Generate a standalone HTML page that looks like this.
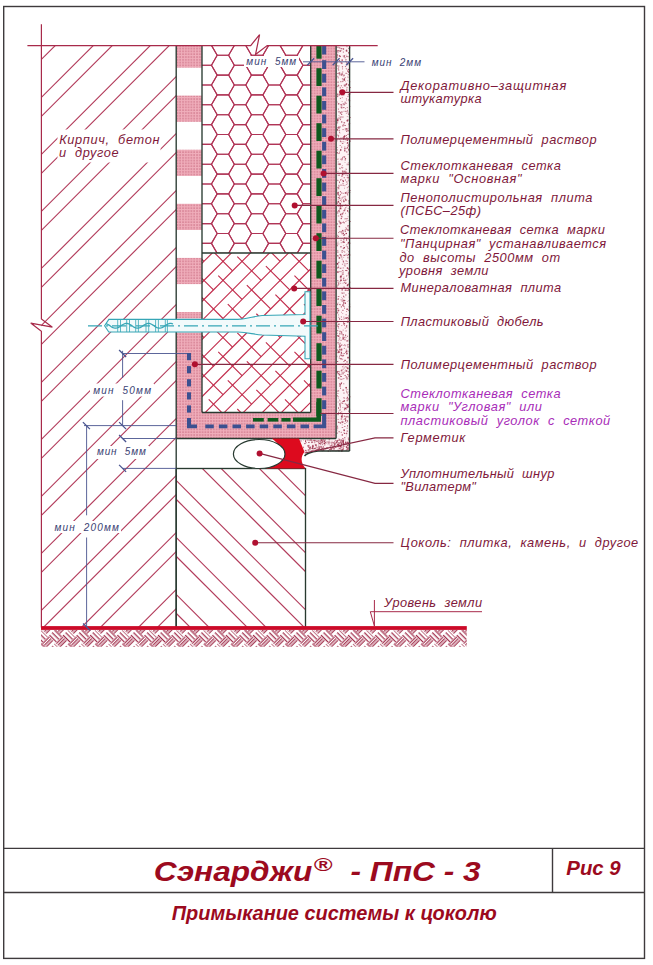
<!DOCTYPE html><html><head><meta charset="utf-8"><style>html,body{margin:0;padding:0;background:#fff;}svg{display:block;font-family:"Liberation Sans",sans-serif;} text{white-space:pre;}</style></head><body><svg width="653" height="965" viewBox="0 0 653 965"><defs><pattern id="pk" width="2.8" height="2.8" patternUnits="userSpaceOnUse"><rect width="2.8" height="2.8" fill="#f0aebb"/><rect x="0.3" y="0.3" width="1.4" height="1.4" fill="#cf7489"/></pattern><clipPath id="cBrick"><rect x="41.4" y="45.4" width="134.8" height="582.1"/></clipPath><clipPath id="cHex"><rect x="202" y="45.4" width="108.7" height="207.6"/></clipPath><clipPath id="cWool"><rect x="202" y="253" width="108.6" height="159.5"/></clipPath><clipPath id="cPlinth"><rect x="176.2" y="468.5" width="129.3" height="159"/></clipPath></defs><g clip-path="url(#cBrick)" stroke="#b23a5a" stroke-width="1.15" fill="none"><line x1="-13.2" y1="0" x2="-813.2" y2="800"/><line x1="43.8" y1="0" x2="-756.2" y2="800"/><line x1="100.8" y1="0" x2="-699.2" y2="800"/><line x1="157.8" y1="0" x2="-642.2" y2="800"/><line x1="214.8" y1="0" x2="-585.2" y2="800"/><line x1="271.8" y1="0" x2="-528.2" y2="800"/><line x1="328.8" y1="0" x2="-471.2" y2="800"/><line x1="385.8" y1="0" x2="-414.2" y2="800"/><line x1="442.8" y1="0" x2="-357.2" y2="800"/><line x1="499.8" y1="0" x2="-300.2" y2="800"/><line x1="556.8" y1="0" x2="-243.2" y2="800"/><line x1="613.8" y1="0" x2="-186.2" y2="800"/><line x1="670.8" y1="0" x2="-129.2" y2="800"/><line x1="727.8" y1="0" x2="-72.2" y2="800"/><line x1="784.8" y1="0" x2="-15.2" y2="800"/><line x1="841.8" y1="0" x2="41.8" y2="800"/><line x1="24.8" y1="0" x2="-775.2" y2="800"/><line x1="81.8" y1="0" x2="-718.2" y2="800"/><line x1="138.8" y1="0" x2="-661.2" y2="800"/><line x1="195.8" y1="0" x2="-604.2" y2="800"/><line x1="252.8" y1="0" x2="-547.2" y2="800"/><line x1="309.8" y1="0" x2="-490.2" y2="800"/><line x1="366.8" y1="0" x2="-433.2" y2="800"/><line x1="423.8" y1="0" x2="-376.2" y2="800"/><line x1="480.8" y1="0" x2="-319.2" y2="800"/><line x1="537.8" y1="0" x2="-262.2" y2="800"/><line x1="594.8" y1="0" x2="-205.2" y2="800"/><line x1="651.8" y1="0" x2="-148.2" y2="800"/><line x1="708.8" y1="0" x2="-91.2" y2="800"/><line x1="765.8" y1="0" x2="-34.2" y2="800"/><line x1="822.8" y1="0" x2="22.8" y2="800"/><line x1="879.8" y1="0" x2="79.8" y2="800"/></g><g clip-path="url(#cPlinth)" stroke="#b23a5a" stroke-width="1.15" fill="none"><line x1="380.7" y1="400" x2="680.7" y2="700"/><line x1="323.7" y1="400" x2="623.7" y2="700"/><line x1="266.7" y1="400" x2="566.7" y2="700"/><line x1="209.7" y1="400" x2="509.7" y2="700"/><line x1="152.7" y1="400" x2="452.7" y2="700"/><line x1="95.7" y1="400" x2="395.7" y2="700"/><line x1="38.7" y1="400" x2="338.7" y2="700"/><line x1="-18.3" y1="400" x2="281.7" y2="700"/><line x1="-75.3" y1="400" x2="224.7" y2="700"/><line x1="-132.3" y1="400" x2="167.7" y2="700"/><line x1="-189.3" y1="400" x2="110.7" y2="700"/><line x1="361.9" y1="400" x2="661.9" y2="700"/><line x1="304.9" y1="400" x2="604.9" y2="700"/><line x1="247.9" y1="400" x2="547.9" y2="700"/><line x1="190.9" y1="400" x2="490.9" y2="700"/><line x1="133.9" y1="400" x2="433.9" y2="700"/><line x1="76.9" y1="400" x2="376.9" y2="700"/><line x1="19.9" y1="400" x2="319.9" y2="700"/><line x1="-37.1" y1="400" x2="262.9" y2="700"/><line x1="-94.1" y1="400" x2="205.9" y2="700"/><line x1="-151.1" y1="400" x2="148.9" y2="700"/><line x1="-208.1" y1="400" x2="91.9" y2="700"/></g><g clip-path="url(#cHex)" stroke="#b03456" stroke-width="1.1" fill="none"><polygon points="177.18,5.8 182.9,-4.1 194.33,-4.1 200.04,5.8 194.33,15.7 182.9,15.7"/><polygon points="177.18,25.6 182.9,15.7 194.33,15.7 200.04,25.6 194.33,35.5 182.9,35.5"/><polygon points="177.18,45.4 182.9,35.5 194.33,35.5 200.04,45.4 194.33,55.3 182.9,55.3"/><polygon points="177.18,65.2 182.9,55.3 194.33,55.3 200.04,65.2 194.33,75.1 182.9,75.1"/><polygon points="177.18,85 182.9,75.1 194.33,75.1 200.04,85 194.33,94.9 182.9,94.9"/><polygon points="177.18,104.8 182.9,94.9 194.33,94.9 200.04,104.8 194.33,114.7 182.9,114.7"/><polygon points="177.18,124.6 182.9,114.7 194.33,114.7 200.04,124.6 194.33,134.5 182.9,134.5"/><polygon points="177.18,144.4 182.9,134.5 194.33,134.5 200.04,144.4 194.33,154.3 182.9,154.3"/><polygon points="177.18,164.2 182.9,154.3 194.33,154.3 200.04,164.2 194.33,174.1 182.9,174.1"/><polygon points="177.18,184 182.9,174.1 194.33,174.1 200.04,184 194.33,193.9 182.9,193.9"/><polygon points="177.18,203.8 182.9,193.9 194.33,193.9 200.04,203.8 194.33,213.7 182.9,213.7"/><polygon points="177.18,223.6 182.9,213.7 194.33,213.7 200.04,223.6 194.33,233.5 182.9,233.5"/><polygon points="177.18,243.4 182.9,233.5 194.33,233.5 200.04,243.4 194.33,253.3 182.9,253.3"/><polygon points="177.18,263.2 182.9,253.3 194.33,253.3 200.04,263.2 194.33,273.1 182.9,273.1"/><polygon points="194.32,15.7 200.04,5.8 211.47,5.8 217.19,15.7 211.47,25.6 200.04,25.6"/><polygon points="194.32,35.5 200.04,25.6 211.47,25.6 217.19,35.5 211.47,45.4 200.04,45.4"/><polygon points="194.32,55.3 200.04,45.4 211.47,45.4 217.19,55.3 211.47,65.2 200.04,65.2"/><polygon points="194.32,75.1 200.04,65.2 211.47,65.2 217.19,75.1 211.47,85 200.04,85"/><polygon points="194.32,94.9 200.04,85 211.47,85 217.19,94.9 211.47,104.8 200.04,104.8"/><polygon points="194.32,114.7 200.04,104.8 211.47,104.8 217.19,114.7 211.47,124.6 200.04,124.6"/><polygon points="194.32,134.5 200.04,124.6 211.47,124.6 217.19,134.5 211.47,144.4 200.04,144.4"/><polygon points="194.32,154.3 200.04,144.4 211.47,144.4 217.19,154.3 211.47,164.2 200.04,164.2"/><polygon points="194.32,174.1 200.04,164.2 211.47,164.2 217.19,174.1 211.47,184 200.04,184"/><polygon points="194.32,193.9 200.04,184 211.47,184 217.19,193.9 211.47,203.8 200.04,203.8"/><polygon points="194.32,213.7 200.04,203.8 211.47,203.8 217.19,213.7 211.47,223.6 200.04,223.6"/><polygon points="194.32,233.5 200.04,223.6 211.47,223.6 217.19,233.5 211.47,243.4 200.04,243.4"/><polygon points="194.32,253.3 200.04,243.4 211.47,243.4 217.19,253.3 211.47,263.2 200.04,263.2"/><polygon points="194.32,273.1 200.04,263.2 211.47,263.2 217.19,273.1 211.47,283 200.04,283"/><polygon points="211.47,5.8 217.19,-4.1 228.62,-4.1 234.33,5.8 228.62,15.7 217.19,15.7"/><polygon points="211.47,25.6 217.19,15.7 228.62,15.7 234.33,25.6 228.62,35.5 217.19,35.5"/><polygon points="211.47,45.4 217.19,35.5 228.62,35.5 234.33,45.4 228.62,55.3 217.19,55.3"/><polygon points="211.47,65.2 217.19,55.3 228.62,55.3 234.33,65.2 228.62,75.1 217.19,75.1"/><polygon points="211.47,85 217.19,75.1 228.62,75.1 234.33,85 228.62,94.9 217.19,94.9"/><polygon points="211.47,104.8 217.19,94.9 228.62,94.9 234.33,104.8 228.62,114.7 217.19,114.7"/><polygon points="211.47,124.6 217.19,114.7 228.62,114.7 234.33,124.6 228.62,134.5 217.19,134.5"/><polygon points="211.47,144.4 217.19,134.5 228.62,134.5 234.33,144.4 228.62,154.3 217.19,154.3"/><polygon points="211.47,164.2 217.19,154.3 228.62,154.3 234.33,164.2 228.62,174.1 217.19,174.1"/><polygon points="211.47,184 217.19,174.1 228.62,174.1 234.33,184 228.62,193.9 217.19,193.9"/><polygon points="211.47,203.8 217.19,193.9 228.62,193.9 234.33,203.8 228.62,213.7 217.19,213.7"/><polygon points="211.47,223.6 217.19,213.7 228.62,213.7 234.33,223.6 228.62,233.5 217.19,233.5"/><polygon points="211.47,243.4 217.19,233.5 228.62,233.5 234.33,243.4 228.62,253.3 217.19,253.3"/><polygon points="211.47,263.2 217.19,253.3 228.62,253.3 234.33,263.2 228.62,273.1 217.19,273.1"/><polygon points="228.62,15.7 234.33,5.8 245.76,5.8 251.48,15.7 245.76,25.6 234.33,25.6"/><polygon points="228.62,35.5 234.33,25.6 245.76,25.6 251.48,35.5 245.76,45.4 234.33,45.4"/><polygon points="228.62,55.3 234.33,45.4 245.76,45.4 251.48,55.3 245.76,65.2 234.33,65.2"/><polygon points="228.62,75.1 234.33,65.2 245.76,65.2 251.48,75.1 245.76,85 234.33,85"/><polygon points="228.62,94.9 234.33,85 245.76,85 251.48,94.9 245.76,104.8 234.33,104.8"/><polygon points="228.62,114.7 234.33,104.8 245.76,104.8 251.48,114.7 245.76,124.6 234.33,124.6"/><polygon points="228.62,134.5 234.33,124.6 245.76,124.6 251.48,134.5 245.76,144.4 234.33,144.4"/><polygon points="228.62,154.3 234.33,144.4 245.76,144.4 251.48,154.3 245.76,164.2 234.33,164.2"/><polygon points="228.62,174.1 234.33,164.2 245.76,164.2 251.48,174.1 245.76,184 234.33,184"/><polygon points="228.62,193.9 234.33,184 245.76,184 251.48,193.9 245.76,203.8 234.33,203.8"/><polygon points="228.62,213.7 234.33,203.8 245.76,203.8 251.48,213.7 245.76,223.6 234.33,223.6"/><polygon points="228.62,233.5 234.33,223.6 245.76,223.6 251.48,233.5 245.76,243.4 234.33,243.4"/><polygon points="228.62,253.3 234.33,243.4 245.76,243.4 251.48,253.3 245.76,263.2 234.33,263.2"/><polygon points="228.62,273.1 234.33,263.2 245.76,263.2 251.48,273.1 245.76,283 234.33,283"/><polygon points="245.76,5.8 251.47,-4.1 262.9,-4.1 268.62,5.8 262.9,15.7 251.47,15.7"/><polygon points="245.76,25.6 251.47,15.7 262.9,15.7 268.62,25.6 262.9,35.5 251.47,35.5"/><polygon points="245.76,45.4 251.47,35.5 262.9,35.5 268.62,45.4 262.9,55.3 251.47,55.3"/><polygon points="245.76,65.2 251.47,55.3 262.9,55.3 268.62,65.2 262.9,75.1 251.47,75.1"/><polygon points="245.76,85 251.47,75.1 262.9,75.1 268.62,85 262.9,94.9 251.47,94.9"/><polygon points="245.76,104.8 251.47,94.9 262.9,94.9 268.62,104.8 262.9,114.7 251.47,114.7"/><polygon points="245.76,124.6 251.47,114.7 262.9,114.7 268.62,124.6 262.9,134.5 251.47,134.5"/><polygon points="245.76,144.4 251.47,134.5 262.9,134.5 268.62,144.4 262.9,154.3 251.47,154.3"/><polygon points="245.76,164.2 251.47,154.3 262.9,154.3 268.62,164.2 262.9,174.1 251.47,174.1"/><polygon points="245.76,184 251.47,174.1 262.9,174.1 268.62,184 262.9,193.9 251.47,193.9"/><polygon points="245.76,203.8 251.47,193.9 262.9,193.9 268.62,203.8 262.9,213.7 251.47,213.7"/><polygon points="245.76,223.6 251.47,213.7 262.9,213.7 268.62,223.6 262.9,233.5 251.47,233.5"/><polygon points="245.76,243.4 251.47,233.5 262.9,233.5 268.62,243.4 262.9,253.3 251.47,253.3"/><polygon points="245.76,263.2 251.47,253.3 262.9,253.3 268.62,263.2 262.9,273.1 251.47,273.1"/><polygon points="262.91,15.7 268.62,5.8 280.05,5.8 285.77,15.7 280.05,25.6 268.62,25.6"/><polygon points="262.91,35.5 268.62,25.6 280.05,25.6 285.77,35.5 280.05,45.4 268.62,45.4"/><polygon points="262.91,55.3 268.62,45.4 280.05,45.4 285.77,55.3 280.05,65.2 268.62,65.2"/><polygon points="262.91,75.1 268.62,65.2 280.05,65.2 285.77,75.1 280.05,85 268.62,85"/><polygon points="262.91,94.9 268.62,85 280.05,85 285.77,94.9 280.05,104.8 268.62,104.8"/><polygon points="262.91,114.7 268.62,104.8 280.05,104.8 285.77,114.7 280.05,124.6 268.62,124.6"/><polygon points="262.91,134.5 268.62,124.6 280.05,124.6 285.77,134.5 280.05,144.4 268.62,144.4"/><polygon points="262.91,154.3 268.62,144.4 280.05,144.4 285.77,154.3 280.05,164.2 268.62,164.2"/><polygon points="262.91,174.1 268.62,164.2 280.05,164.2 285.77,174.1 280.05,184 268.62,184"/><polygon points="262.91,193.9 268.62,184 280.05,184 285.77,193.9 280.05,203.8 268.62,203.8"/><polygon points="262.91,213.7 268.62,203.8 280.05,203.8 285.77,213.7 280.05,223.6 268.62,223.6"/><polygon points="262.91,233.5 268.62,223.6 280.05,223.6 285.77,233.5 280.05,243.4 268.62,243.4"/><polygon points="262.91,253.3 268.62,243.4 280.05,243.4 285.77,253.3 280.05,263.2 268.62,263.2"/><polygon points="262.91,273.1 268.62,263.2 280.05,263.2 285.77,273.1 280.05,283 268.62,283"/><polygon points="280.05,5.8 285.77,-4.1 297.19,-4.1 302.91,5.8 297.19,15.7 285.77,15.7"/><polygon points="280.05,25.6 285.77,15.7 297.19,15.7 302.91,25.6 297.19,35.5 285.77,35.5"/><polygon points="280.05,45.4 285.77,35.5 297.19,35.5 302.91,45.4 297.19,55.3 285.77,55.3"/><polygon points="280.05,65.2 285.77,55.3 297.19,55.3 302.91,65.2 297.19,75.1 285.77,75.1"/><polygon points="280.05,85 285.77,75.1 297.19,75.1 302.91,85 297.19,94.9 285.77,94.9"/><polygon points="280.05,104.8 285.77,94.9 297.19,94.9 302.91,104.8 297.19,114.7 285.77,114.7"/><polygon points="280.05,124.6 285.77,114.7 297.19,114.7 302.91,124.6 297.19,134.5 285.77,134.5"/><polygon points="280.05,144.4 285.77,134.5 297.19,134.5 302.91,144.4 297.19,154.3 285.77,154.3"/><polygon points="280.05,164.2 285.77,154.3 297.19,154.3 302.91,164.2 297.19,174.1 285.77,174.1"/><polygon points="280.05,184 285.77,174.1 297.19,174.1 302.91,184 297.19,193.9 285.77,193.9"/><polygon points="280.05,203.8 285.77,193.9 297.19,193.9 302.91,203.8 297.19,213.7 285.77,213.7"/><polygon points="280.05,223.6 285.77,213.7 297.19,213.7 302.91,223.6 297.19,233.5 285.77,233.5"/><polygon points="280.05,243.4 285.77,233.5 297.19,233.5 302.91,243.4 297.19,253.3 285.77,253.3"/><polygon points="280.05,263.2 285.77,253.3 297.19,253.3 302.91,263.2 297.19,273.1 285.77,273.1"/><polygon points="297.19,15.7 302.91,5.8 314.34,5.8 320.06,15.7 314.34,25.6 302.91,25.6"/><polygon points="297.19,35.5 302.91,25.6 314.34,25.6 320.06,35.5 314.34,45.4 302.91,45.4"/><polygon points="297.19,55.3 302.91,45.4 314.34,45.4 320.06,55.3 314.34,65.2 302.91,65.2"/><polygon points="297.19,75.1 302.91,65.2 314.34,65.2 320.06,75.1 314.34,85 302.91,85"/><polygon points="297.19,94.9 302.91,85 314.34,85 320.06,94.9 314.34,104.8 302.91,104.8"/><polygon points="297.19,114.7 302.91,104.8 314.34,104.8 320.06,114.7 314.34,124.6 302.91,124.6"/><polygon points="297.19,134.5 302.91,124.6 314.34,124.6 320.06,134.5 314.34,144.4 302.91,144.4"/><polygon points="297.19,154.3 302.91,144.4 314.34,144.4 320.06,154.3 314.34,164.2 302.91,164.2"/><polygon points="297.19,174.1 302.91,164.2 314.34,164.2 320.06,174.1 314.34,184 302.91,184"/><polygon points="297.19,193.9 302.91,184 314.34,184 320.06,193.9 314.34,203.8 302.91,203.8"/><polygon points="297.19,213.7 302.91,203.8 314.34,203.8 320.06,213.7 314.34,223.6 302.91,223.6"/><polygon points="297.19,233.5 302.91,223.6 314.34,223.6 320.06,233.5 314.34,243.4 302.91,243.4"/><polygon points="297.19,253.3 302.91,243.4 314.34,243.4 320.06,253.3 314.34,263.2 302.91,263.2"/><polygon points="297.19,273.1 302.91,263.2 314.34,263.2 320.06,273.1 314.34,283 302.91,283"/><polygon points="314.34,5.8 320.06,-4.1 331.48,-4.1 337.2,5.8 331.48,15.7 320.06,15.7"/><polygon points="314.34,25.6 320.06,15.7 331.48,15.7 337.2,25.6 331.48,35.5 320.06,35.5"/><polygon points="314.34,45.4 320.06,35.5 331.48,35.5 337.2,45.4 331.48,55.3 320.06,55.3"/><polygon points="314.34,65.2 320.06,55.3 331.48,55.3 337.2,65.2 331.48,75.1 320.06,75.1"/><polygon points="314.34,85 320.06,75.1 331.48,75.1 337.2,85 331.48,94.9 320.06,94.9"/><polygon points="314.34,104.8 320.06,94.9 331.48,94.9 337.2,104.8 331.48,114.7 320.06,114.7"/><polygon points="314.34,124.6 320.06,114.7 331.48,114.7 337.2,124.6 331.48,134.5 320.06,134.5"/><polygon points="314.34,144.4 320.06,134.5 331.48,134.5 337.2,144.4 331.48,154.3 320.06,154.3"/><polygon points="314.34,164.2 320.06,154.3 331.48,154.3 337.2,164.2 331.48,174.1 320.06,174.1"/><polygon points="314.34,184 320.06,174.1 331.48,174.1 337.2,184 331.48,193.9 320.06,193.9"/><polygon points="314.34,203.8 320.06,193.9 331.48,193.9 337.2,203.8 331.48,213.7 320.06,213.7"/><polygon points="314.34,223.6 320.06,213.7 331.48,213.7 337.2,223.6 331.48,233.5 320.06,233.5"/><polygon points="314.34,243.4 320.06,233.5 331.48,233.5 337.2,243.4 331.48,253.3 320.06,253.3"/><polygon points="314.34,263.2 320.06,253.3 331.48,253.3 337.2,263.2 331.48,273.1 320.06,273.1"/><polygon points="331.49,15.7 337.2,5.8 348.63,5.8 354.35,15.7 348.63,25.6 337.2,25.6"/><polygon points="331.49,35.5 337.2,25.6 348.63,25.6 354.35,35.5 348.63,45.4 337.2,45.4"/><polygon points="331.49,55.3 337.2,45.4 348.63,45.4 354.35,55.3 348.63,65.2 337.2,65.2"/><polygon points="331.49,75.1 337.2,65.2 348.63,65.2 354.35,75.1 348.63,85 337.2,85"/><polygon points="331.49,94.9 337.2,85 348.63,85 354.35,94.9 348.63,104.8 337.2,104.8"/><polygon points="331.49,114.7 337.2,104.8 348.63,104.8 354.35,114.7 348.63,124.6 337.2,124.6"/><polygon points="331.49,134.5 337.2,124.6 348.63,124.6 354.35,134.5 348.63,144.4 337.2,144.4"/><polygon points="331.49,154.3 337.2,144.4 348.63,144.4 354.35,154.3 348.63,164.2 337.2,164.2"/><polygon points="331.49,174.1 337.2,164.2 348.63,164.2 354.35,174.1 348.63,184 337.2,184"/><polygon points="331.49,193.9 337.2,184 348.63,184 354.35,193.9 348.63,203.8 337.2,203.8"/><polygon points="331.49,213.7 337.2,203.8 348.63,203.8 354.35,213.7 348.63,223.6 337.2,223.6"/><polygon points="331.49,233.5 337.2,223.6 348.63,223.6 354.35,233.5 348.63,243.4 337.2,243.4"/><polygon points="331.49,253.3 337.2,243.4 348.63,243.4 354.35,253.3 348.63,263.2 337.2,263.2"/><polygon points="331.49,273.1 337.2,263.2 348.63,263.2 354.35,273.1 348.63,283 337.2,283"/><polygon points="348.63,5.8 354.35,-4.1 365.77,-4.1 371.49,5.8 365.77,15.7 354.35,15.7"/><polygon points="348.63,25.6 354.35,15.7 365.77,15.7 371.49,25.6 365.77,35.5 354.35,35.5"/><polygon points="348.63,45.4 354.35,35.5 365.77,35.5 371.49,45.4 365.77,55.3 354.35,55.3"/><polygon points="348.63,65.2 354.35,55.3 365.77,55.3 371.49,65.2 365.77,75.1 354.35,75.1"/><polygon points="348.63,85 354.35,75.1 365.77,75.1 371.49,85 365.77,94.9 354.35,94.9"/><polygon points="348.63,104.8 354.35,94.9 365.77,94.9 371.49,104.8 365.77,114.7 354.35,114.7"/><polygon points="348.63,124.6 354.35,114.7 365.77,114.7 371.49,124.6 365.77,134.5 354.35,134.5"/><polygon points="348.63,144.4 354.35,134.5 365.77,134.5 371.49,144.4 365.77,154.3 354.35,154.3"/><polygon points="348.63,164.2 354.35,154.3 365.77,154.3 371.49,164.2 365.77,174.1 354.35,174.1"/><polygon points="348.63,184 354.35,174.1 365.77,174.1 371.49,184 365.77,193.9 354.35,193.9"/><polygon points="348.63,203.8 354.35,193.9 365.77,193.9 371.49,203.8 365.77,213.7 354.35,213.7"/><polygon points="348.63,223.6 354.35,213.7 365.77,213.7 371.49,223.6 365.77,233.5 354.35,233.5"/><polygon points="348.63,243.4 354.35,233.5 365.77,233.5 371.49,243.4 365.77,253.3 354.35,253.3"/><polygon points="348.63,263.2 354.35,253.3 365.77,253.3 371.49,263.2 365.77,273.1 354.35,273.1"/></g><g clip-path="url(#cWool)" stroke="#c02848" stroke-width="1.1" fill="none"><line x1="274.8" y1="0" x2="-525.2" y2="800"/><line x1="293.85" y1="0" x2="-506.15" y2="800"/><line x1="312.9" y1="0" x2="-487.1" y2="800"/><line x1="331.95" y1="0" x2="-468.05" y2="800"/><line x1="351" y1="0" x2="-449" y2="800"/><line x1="370.05" y1="0" x2="-429.95" y2="800"/><line x1="389.1" y1="0" x2="-410.9" y2="800"/><line x1="408.15" y1="0" x2="-391.85" y2="800"/><line x1="427.2" y1="0" x2="-372.8" y2="800"/><line x1="446.25" y1="0" x2="-353.75" y2="800"/><line x1="465.3" y1="0" x2="-334.7" y2="800"/><line x1="484.35" y1="0" x2="-315.65" y2="800"/><line x1="503.4" y1="0" x2="-296.6" y2="800"/><line x1="522.45" y1="0" x2="-277.55" y2="800"/><line x1="541.5" y1="0" x2="-258.5" y2="800"/><line x1="560.55" y1="0" x2="-239.45" y2="800"/><line x1="579.6" y1="0" x2="-220.4" y2="800"/><line x1="598.65" y1="0" x2="-201.35" y2="800"/><line x1="617.7" y1="0" x2="-182.3" y2="800"/><line x1="636.75" y1="0" x2="-163.25" y2="800"/><line x1="655.8" y1="0" x2="-144.2" y2="800"/><line x1="674.85" y1="0" x2="-125.15" y2="800"/><line x1="693.9" y1="0" x2="-106.1" y2="800"/><line x1="712.95" y1="0" x2="-87.05" y2="800"/><line x1="732" y1="0" x2="-68" y2="800"/><line x1="751.05" y1="0" x2="-48.95" y2="800"/><line x1="770.1" y1="0" x2="-29.9" y2="800"/><line x1="789.15" y1="0" x2="-10.85" y2="800"/><line x1="808.2" y1="0" x2="8.2" y2="800"/><line x1="827.25" y1="0" x2="27.25" y2="800"/><line x1="161.1" y1="28" x2="184.9" y2="51.8"/><line x1="199.2" y1="66.1" x2="223" y2="89.9"/><line x1="237.3" y1="104.2" x2="261.1" y2="128"/><line x1="275.4" y1="142.3" x2="299.2" y2="166.1"/><line x1="313.5" y1="180.4" x2="337.3" y2="204.2"/><line x1="351.6" y1="218.5" x2="375.4" y2="242.3"/><line x1="389.7" y1="256.6" x2="413.5" y2="280.4"/><line x1="427.8" y1="294.7" x2="451.6" y2="318.5"/><line x1="465.9" y1="332.8" x2="489.7" y2="356.6"/><line x1="504" y1="370.9" x2="527.8" y2="394.7"/><line x1="132.53" y1="18.48" x2="156.32" y2="42.27"/><line x1="170.62" y1="56.57" x2="194.43" y2="80.38"/><line x1="208.72" y1="94.67" x2="232.53" y2="118.47"/><line x1="246.83" y1="132.78" x2="270.62" y2="156.58"/><line x1="284.93" y1="170.88" x2="308.73" y2="194.68"/><line x1="323.02" y1="208.97" x2="346.82" y2="232.78"/><line x1="361.12" y1="247.08" x2="384.93" y2="270.88"/><line x1="399.23" y1="285.18" x2="423.03" y2="308.98"/><line x1="437.32" y1="323.28" x2="461.12" y2="347.08"/><line x1="475.42" y1="361.38" x2="499.22" y2="385.18"/><line x1="142.05" y1="47.05" x2="165.85" y2="70.85"/><line x1="180.15" y1="85.15" x2="203.95" y2="108.95"/><line x1="218.25" y1="123.25" x2="242.05" y2="147.05"/><line x1="256.35" y1="161.35" x2="280.15" y2="185.15"/><line x1="294.45" y1="199.45" x2="318.25" y2="223.25"/><line x1="332.55" y1="237.55" x2="356.35" y2="261.35"/><line x1="370.65" y1="275.65" x2="394.45" y2="299.45"/><line x1="408.75" y1="313.75" x2="432.55" y2="337.55"/><line x1="446.85" y1="351.85" x2="470.65" y2="375.65"/><line x1="484.95" y1="389.95" x2="508.75" y2="413.75"/><line x1="113.47" y1="37.52" x2="137.28" y2="61.32"/><line x1="151.57" y1="75.62" x2="175.38" y2="99.43"/><line x1="189.67" y1="113.72" x2="213.47" y2="137.53"/><line x1="227.78" y1="151.83" x2="251.58" y2="175.63"/><line x1="265.88" y1="189.93" x2="289.68" y2="213.73"/><line x1="303.98" y1="228.03" x2="327.78" y2="251.83"/><line x1="342.08" y1="266.12" x2="365.88" y2="289.93"/><line x1="380.18" y1="304.23" x2="403.98" y2="328.03"/><line x1="418.28" y1="342.32" x2="442.08" y2="366.12"/><line x1="456.38" y1="380.42" x2="480.18" y2="404.22"/><line x1="123" y1="66.1" x2="146.8" y2="89.9"/><line x1="161.1" y1="104.2" x2="184.9" y2="128"/><line x1="199.2" y1="142.3" x2="223" y2="166.1"/><line x1="237.3" y1="180.4" x2="261.1" y2="204.2"/><line x1="275.4" y1="218.5" x2="299.2" y2="242.3"/><line x1="313.5" y1="256.6" x2="337.3" y2="280.4"/><line x1="351.6" y1="294.7" x2="375.4" y2="318.5"/><line x1="389.7" y1="332.8" x2="413.5" y2="356.6"/><line x1="427.8" y1="370.9" x2="451.6" y2="394.7"/><line x1="465.9" y1="409" x2="489.7" y2="432.8"/><line x1="94.43" y1="56.57" x2="118.22" y2="80.38"/><line x1="132.53" y1="94.67" x2="156.33" y2="118.47"/><line x1="170.62" y1="132.77" x2="194.43" y2="156.57"/><line x1="208.73" y1="170.88" x2="232.53" y2="194.68"/><line x1="246.83" y1="208.97" x2="270.62" y2="232.78"/><line x1="284.93" y1="247.07" x2="308.73" y2="270.88"/><line x1="323.03" y1="285.18" x2="346.83" y2="308.98"/><line x1="361.13" y1="323.28" x2="384.93" y2="347.08"/><line x1="399.23" y1="361.38" x2="423.03" y2="385.18"/><line x1="437.32" y1="399.47" x2="461.12" y2="423.27"/><line x1="103.95" y1="85.15" x2="127.75" y2="108.95"/><line x1="142.05" y1="123.25" x2="165.85" y2="147.05"/><line x1="180.15" y1="161.35" x2="203.95" y2="185.15"/><line x1="218.25" y1="199.45" x2="242.05" y2="223.25"/><line x1="256.35" y1="237.55" x2="280.15" y2="261.35"/><line x1="294.45" y1="275.65" x2="318.25" y2="299.45"/><line x1="332.55" y1="313.75" x2="356.35" y2="337.55"/><line x1="370.65" y1="351.85" x2="394.45" y2="375.65"/><line x1="408.75" y1="389.95" x2="432.55" y2="413.75"/><line x1="446.85" y1="428.05" x2="470.65" y2="451.85"/><line x1="75.38" y1="75.62" x2="99.17" y2="99.42"/><line x1="113.47" y1="113.72" x2="137.28" y2="137.53"/><line x1="151.57" y1="151.82" x2="175.38" y2="175.62"/><line x1="189.68" y1="189.93" x2="213.48" y2="213.73"/><line x1="227.78" y1="228.03" x2="251.58" y2="251.83"/><line x1="265.88" y1="266.12" x2="289.68" y2="289.93"/><line x1="303.98" y1="304.23" x2="327.78" y2="328.03"/><line x1="342.08" y1="342.33" x2="365.88" y2="366.13"/><line x1="380.18" y1="380.43" x2="403.98" y2="404.23"/><line x1="418.27" y1="418.52" x2="442.07" y2="442.32"/><line x1="84.9" y1="104.2" x2="108.7" y2="128"/><line x1="123" y1="142.3" x2="146.8" y2="166.1"/><line x1="161.1" y1="180.4" x2="184.9" y2="204.2"/><line x1="199.2" y1="218.5" x2="223" y2="242.3"/><line x1="237.3" y1="256.6" x2="261.1" y2="280.4"/><line x1="275.4" y1="294.7" x2="299.2" y2="318.5"/><line x1="313.5" y1="332.8" x2="337.3" y2="356.6"/><line x1="351.6" y1="370.9" x2="375.4" y2="394.7"/><line x1="389.7" y1="409" x2="413.5" y2="432.8"/><line x1="427.8" y1="447.1" x2="451.6" y2="470.9"/><line x1="56.33" y1="94.67" x2="80.12" y2="118.47"/><line x1="94.42" y1="132.78" x2="118.23" y2="156.58"/><line x1="132.52" y1="170.88" x2="156.32" y2="194.68"/><line x1="170.62" y1="208.98" x2="194.43" y2="232.78"/><line x1="208.72" y1="247.08" x2="232.53" y2="270.88"/><line x1="246.82" y1="285.18" x2="270.62" y2="308.98"/><line x1="284.93" y1="323.28" x2="308.73" y2="347.08"/><line x1="323.03" y1="361.38" x2="346.83" y2="385.18"/><line x1="361.12" y1="399.48" x2="384.93" y2="423.28"/><line x1="399.22" y1="437.57" x2="423.02" y2="461.38"/><line x1="65.85" y1="123.25" x2="89.65" y2="147.05"/><line x1="103.95" y1="161.35" x2="127.75" y2="185.15"/><line x1="142.05" y1="199.45" x2="165.85" y2="223.25"/><line x1="180.15" y1="237.55" x2="203.95" y2="261.35"/><line x1="218.25" y1="275.65" x2="242.05" y2="299.45"/><line x1="256.35" y1="313.75" x2="280.15" y2="337.55"/><line x1="294.45" y1="351.85" x2="318.25" y2="375.65"/><line x1="332.55" y1="389.95" x2="356.35" y2="413.75"/><line x1="370.65" y1="428.05" x2="394.45" y2="451.85"/><line x1="408.75" y1="466.15" x2="432.55" y2="489.95"/><line x1="37.27" y1="113.72" x2="61.07" y2="137.53"/><line x1="75.38" y1="151.82" x2="99.18" y2="175.62"/><line x1="113.47" y1="189.92" x2="137.28" y2="213.72"/><line x1="151.58" y1="228.03" x2="175.38" y2="251.83"/><line x1="189.68" y1="266.12" x2="213.48" y2="289.93"/><line x1="227.78" y1="304.23" x2="251.58" y2="328.03"/><line x1="265.88" y1="342.33" x2="289.68" y2="366.13"/><line x1="303.98" y1="380.43" x2="327.78" y2="404.23"/><line x1="342.07" y1="418.53" x2="365.88" y2="442.33"/><line x1="380.17" y1="456.62" x2="403.97" y2="480.43"/><line x1="46.8" y1="142.3" x2="70.6" y2="166.1"/><line x1="84.9" y1="180.4" x2="108.7" y2="204.2"/><line x1="123" y1="218.5" x2="146.8" y2="242.3"/><line x1="161.1" y1="256.6" x2="184.9" y2="280.4"/><line x1="199.2" y1="294.7" x2="223" y2="318.5"/><line x1="237.3" y1="332.8" x2="261.1" y2="356.6"/><line x1="275.4" y1="370.9" x2="299.2" y2="394.7"/><line x1="313.5" y1="409" x2="337.3" y2="432.8"/><line x1="351.6" y1="447.1" x2="375.4" y2="470.9"/><line x1="389.7" y1="485.2" x2="413.5" y2="509"/><line x1="18.23" y1="132.78" x2="42.02" y2="156.57"/><line x1="56.32" y1="170.88" x2="80.12" y2="194.68"/><line x1="94.42" y1="208.97" x2="118.22" y2="232.78"/><line x1="132.53" y1="247.08" x2="156.33" y2="270.88"/><line x1="170.62" y1="285.18" x2="194.43" y2="308.98"/><line x1="208.72" y1="323.27" x2="232.53" y2="347.07"/><line x1="246.83" y1="361.38" x2="270.63" y2="385.18"/><line x1="284.93" y1="399.48" x2="308.73" y2="423.28"/><line x1="323.03" y1="437.57" x2="346.83" y2="461.38"/><line x1="361.12" y1="475.67" x2="384.93" y2="499.47"/><line x1="27.75" y1="161.35" x2="51.55" y2="185.15"/><line x1="65.85" y1="199.45" x2="89.65" y2="223.25"/><line x1="103.95" y1="237.55" x2="127.75" y2="261.35"/><line x1="142.05" y1="275.65" x2="165.85" y2="299.45"/><line x1="180.15" y1="313.75" x2="203.95" y2="337.55"/><line x1="218.25" y1="351.85" x2="242.05" y2="375.65"/><line x1="256.35" y1="389.95" x2="280.15" y2="413.75"/><line x1="294.45" y1="428.05" x2="318.25" y2="451.85"/><line x1="332.55" y1="466.15" x2="356.35" y2="489.95"/><line x1="370.65" y1="504.25" x2="394.45" y2="528.05"/><line x1="-0.83" y1="151.82" x2="22.97" y2="175.62"/><line x1="37.27" y1="189.93" x2="61.08" y2="213.73"/><line x1="75.37" y1="228.02" x2="99.17" y2="251.82"/><line x1="113.48" y1="266.12" x2="137.28" y2="289.93"/><line x1="151.57" y1="304.23" x2="175.38" y2="328.03"/><line x1="189.68" y1="342.32" x2="213.48" y2="366.12"/><line x1="227.78" y1="380.43" x2="251.58" y2="404.23"/><line x1="265.88" y1="418.53" x2="289.68" y2="442.33"/><line x1="303.98" y1="456.62" x2="327.78" y2="480.43"/><line x1="342.07" y1="494.72" x2="365.88" y2="518.52"/><line x1="8.7" y1="180.4" x2="32.5" y2="204.2"/><line x1="46.8" y1="218.5" x2="70.6" y2="242.3"/><line x1="84.9" y1="256.6" x2="108.7" y2="280.4"/><line x1="123" y1="294.7" x2="146.8" y2="318.5"/><line x1="161.1" y1="332.8" x2="184.9" y2="356.6"/><line x1="199.2" y1="370.9" x2="223" y2="394.7"/><line x1="237.3" y1="409" x2="261.1" y2="432.8"/><line x1="275.4" y1="447.1" x2="299.2" y2="470.9"/><line x1="313.5" y1="485.2" x2="337.3" y2="509"/><line x1="351.6" y1="523.3" x2="375.4" y2="547.1"/><line x1="-19.88" y1="170.88" x2="3.92" y2="194.68"/><line x1="18.22" y1="208.98" x2="42.02" y2="232.78"/><line x1="56.32" y1="247.07" x2="80.12" y2="270.88"/><line x1="94.42" y1="285.18" x2="118.23" y2="308.98"/><line x1="132.52" y1="323.28" x2="156.32" y2="347.08"/><line x1="170.62" y1="361.38" x2="194.43" y2="385.18"/><line x1="208.73" y1="399.48" x2="232.53" y2="423.28"/><line x1="246.83" y1="437.58" x2="270.63" y2="461.38"/><line x1="284.93" y1="475.68" x2="308.73" y2="499.48"/><line x1="323.02" y1="513.77" x2="346.82" y2="537.58"/><line x1="-10.35" y1="199.45" x2="13.45" y2="223.25"/><line x1="27.75" y1="237.55" x2="51.55" y2="261.35"/><line x1="65.85" y1="275.65" x2="89.65" y2="299.45"/><line x1="103.95" y1="313.75" x2="127.75" y2="337.55"/><line x1="142.05" y1="351.85" x2="165.85" y2="375.65"/><line x1="180.15" y1="389.95" x2="203.95" y2="413.75"/><line x1="218.25" y1="428.05" x2="242.05" y2="451.85"/><line x1="256.35" y1="466.15" x2="280.15" y2="489.95"/><line x1="294.45" y1="504.25" x2="318.25" y2="528.05"/><line x1="332.55" y1="542.35" x2="356.35" y2="566.15"/><line x1="-38.93" y1="189.93" x2="-15.13" y2="213.73"/><line x1="-0.83" y1="228.03" x2="22.97" y2="251.83"/><line x1="37.27" y1="266.12" x2="61.07" y2="289.93"/><line x1="75.38" y1="304.23" x2="99.18" y2="328.03"/><line x1="113.47" y1="342.33" x2="137.28" y2="366.12"/><line x1="151.57" y1="380.43" x2="175.38" y2="404.23"/><line x1="189.68" y1="418.53" x2="213.48" y2="442.33"/><line x1="227.78" y1="456.63" x2="251.58" y2="480.43"/><line x1="265.88" y1="494.73" x2="289.68" y2="518.53"/><line x1="303.97" y1="532.83" x2="327.77" y2="556.62"/><line x1="-29.4" y1="218.5" x2="-5.6" y2="242.3"/><line x1="8.7" y1="256.6" x2="32.5" y2="280.4"/><line x1="46.8" y1="294.7" x2="70.6" y2="318.5"/><line x1="84.9" y1="332.8" x2="108.7" y2="356.6"/><line x1="123" y1="370.9" x2="146.8" y2="394.7"/><line x1="161.1" y1="409" x2="184.9" y2="432.8"/><line x1="199.2" y1="447.1" x2="223" y2="470.9"/><line x1="237.3" y1="485.2" x2="261.1" y2="509"/><line x1="275.4" y1="523.3" x2="299.2" y2="547.1"/><line x1="313.5" y1="561.4" x2="337.3" y2="585.2"/><line x1="-57.97" y1="208.97" x2="-34.17" y2="232.77"/><line x1="-19.88" y1="247.07" x2="3.93" y2="270.88"/><line x1="18.22" y1="285.17" x2="42.03" y2="308.98"/><line x1="56.33" y1="323.27" x2="80.13" y2="347.08"/><line x1="94.43" y1="361.38" x2="118.23" y2="385.18"/><line x1="132.53" y1="399.48" x2="156.33" y2="423.27"/><line x1="170.63" y1="437.58" x2="194.43" y2="461.38"/><line x1="208.73" y1="475.68" x2="232.53" y2="499.48"/><line x1="246.83" y1="513.77" x2="270.62" y2="537.58"/><line x1="284.92" y1="551.88" x2="308.73" y2="575.67"/><line x1="-48.45" y1="237.55" x2="-24.65" y2="261.35"/><line x1="-10.35" y1="275.65" x2="13.45" y2="299.45"/><line x1="27.75" y1="313.75" x2="51.55" y2="337.55"/><line x1="65.85" y1="351.85" x2="89.65" y2="375.65"/><line x1="103.95" y1="389.95" x2="127.75" y2="413.75"/><line x1="142.05" y1="428.05" x2="165.85" y2="451.85"/><line x1="180.15" y1="466.15" x2="203.95" y2="489.95"/><line x1="218.25" y1="504.25" x2="242.05" y2="528.05"/><line x1="256.35" y1="542.35" x2="280.15" y2="566.15"/><line x1="294.45" y1="580.45" x2="318.25" y2="604.25"/><line x1="-77.03" y1="228.03" x2="-53.23" y2="251.82"/><line x1="-38.93" y1="266.12" x2="-15.12" y2="289.93"/><line x1="-0.83" y1="304.23" x2="22.97" y2="328.02"/><line x1="37.28" y1="342.33" x2="61.08" y2="366.12"/><line x1="75.38" y1="380.43" x2="99.18" y2="404.23"/><line x1="113.47" y1="418.52" x2="137.28" y2="442.33"/><line x1="151.58" y1="456.62" x2="175.38" y2="480.43"/><line x1="189.68" y1="494.73" x2="213.48" y2="518.53"/><line x1="227.78" y1="532.83" x2="251.58" y2="556.62"/><line x1="265.88" y1="570.92" x2="289.67" y2="594.73"/><line x1="-67.5" y1="256.6" x2="-43.7" y2="280.4"/><line x1="-29.4" y1="294.7" x2="-5.6" y2="318.5"/><line x1="8.7" y1="332.8" x2="32.5" y2="356.6"/><line x1="46.8" y1="370.9" x2="70.6" y2="394.7"/><line x1="84.9" y1="409" x2="108.7" y2="432.8"/><line x1="123" y1="447.1" x2="146.8" y2="470.9"/><line x1="161.1" y1="485.2" x2="184.9" y2="509"/><line x1="199.2" y1="523.3" x2="223" y2="547.1"/><line x1="237.3" y1="561.4" x2="261.1" y2="585.2"/><line x1="275.4" y1="599.5" x2="299.2" y2="623.3"/><line x1="-96.08" y1="247.08" x2="-72.28" y2="270.88"/><line x1="-57.98" y1="285.18" x2="-34.18" y2="308.98"/><line x1="-19.88" y1="323.27" x2="3.92" y2="347.08"/><line x1="18.22" y1="361.38" x2="42.03" y2="385.18"/><line x1="56.32" y1="399.48" x2="80.12" y2="423.28"/><line x1="94.42" y1="437.58" x2="118.22" y2="461.38"/><line x1="132.53" y1="475.68" x2="156.33" y2="499.48"/><line x1="170.63" y1="513.78" x2="194.43" y2="537.58"/><line x1="208.72" y1="551.88" x2="232.53" y2="575.68"/><line x1="246.82" y1="589.98" x2="270.62" y2="613.77"/><line x1="-86.55" y1="275.65" x2="-62.75" y2="299.45"/><line x1="-48.45" y1="313.75" x2="-24.65" y2="337.55"/><line x1="-10.35" y1="351.85" x2="13.45" y2="375.65"/><line x1="27.75" y1="389.95" x2="51.55" y2="413.75"/><line x1="65.85" y1="428.05" x2="89.65" y2="451.85"/><line x1="103.95" y1="466.15" x2="127.75" y2="489.95"/><line x1="142.05" y1="504.25" x2="165.85" y2="528.05"/><line x1="180.15" y1="542.35" x2="203.95" y2="566.15"/><line x1="218.25" y1="580.45" x2="242.05" y2="604.25"/><line x1="256.35" y1="618.55" x2="280.15" y2="642.35"/><line x1="-115.12" y1="266.12" x2="-91.33" y2="289.93"/><line x1="-77.03" y1="304.23" x2="-53.22" y2="328.02"/><line x1="-38.93" y1="342.32" x2="-15.12" y2="366.12"/><line x1="-0.82" y1="380.43" x2="22.98" y2="404.23"/><line x1="37.28" y1="418.52" x2="61.08" y2="442.33"/><line x1="75.38" y1="456.62" x2="99.18" y2="480.43"/><line x1="113.48" y1="494.73" x2="137.28" y2="518.53"/><line x1="151.58" y1="532.83" x2="175.38" y2="556.62"/><line x1="189.68" y1="570.92" x2="213.48" y2="594.73"/><line x1="227.77" y1="609.02" x2="251.57" y2="632.83"/></g><rect x="176.2" y="45.4" width="25.8" height="22.3" fill="url(#pk)"/><rect x="176.2" y="95.6" width="25.8" height="26.2" fill="url(#pk)"/><rect x="176.2" y="149.7" width="25.8" height="26.2" fill="url(#pk)"/><rect x="176.2" y="203.8" width="25.8" height="26.2" fill="url(#pk)"/><rect x="176.2" y="257.9" width="25.8" height="26.2" fill="url(#pk)"/><rect x="176.2" y="312" width="25.8" height="6.5" fill="url(#pk)"/><path d="M310.7,45.4 H336.1 V438.5 H176.2 V332.4 H202 V412.5 H310.7 Z" fill="url(#pk)"/><path d="M336.1,45.4 H349.6 V451 H318 C311,452 306,454 304.5,456 L299,438.5 H336.1 Z" fill="#fdf3f5"/><g fill="#9a2a46"><rect x="340.65" y="106.68" width="0.8" height="0.8" opacity="0.8"/><rect x="337.7" y="281.57" width="1" height="0.8" opacity="0.4"/><rect x="341.85" y="143.04" width="1.5" height="0.8" opacity="0.8"/><rect x="338.08" y="135.99" width="0.8" height="1.6" opacity="0.38"/><rect x="339.33" y="270.99" width="1" height="1.2" opacity="0.58"/><rect x="343.42" y="276.76" width="1" height="0.8" opacity="0.67"/><rect x="344.68" y="196.38" width="0.8" height="0.8" opacity="0.69"/><rect x="342.85" y="260.89" width="1.2" height="1.6" opacity="0.67"/><rect x="342.3" y="166.98" width="1" height="1" opacity="0.4"/><rect x="340.34" y="246.07" width="1.2" height="1.6" opacity="0.51"/><rect x="349.05" y="93.4" width="1.5" height="1" opacity="0.77"/><rect x="338.45" y="243.58" width="0.8" height="0.8" opacity="0.77"/><rect x="343.83" y="400.08" width="1.2" height="1.2" opacity="0.73"/><rect x="344.11" y="280.4" width="1.5" height="0.8" opacity="0.81"/><rect x="348.59" y="237.56" width="0.8" height="0.8" opacity="0.75"/><rect x="340.46" y="279.61" width="1.5" height="1.2" opacity="0.74"/><rect x="347.85" y="186.1" width="1.5" height="1.2" opacity="0.44"/><rect x="338" y="69.47" width="1.2" height="1" opacity="0.76"/><rect x="341.59" y="416.82" width="1.5" height="0.8" opacity="0.44"/><rect x="341.64" y="158.1" width="1" height="1.6" opacity="0.83"/><rect x="340.06" y="213.75" width="1.2" height="1.6" opacity="0.88"/><rect x="338.43" y="116.95" width="1" height="1" opacity="0.36"/><rect x="347.14" y="119.43" width="1.2" height="0.8" opacity="0.43"/><rect x="343.34" y="292.51" width="1.2" height="1" opacity="0.73"/><rect x="343.1" y="295.66" width="0.8" height="1.6" opacity="0.84"/><rect x="346.48" y="399.69" width="1.5" height="1.6" opacity="0.57"/><rect x="337.83" y="302.42" width="0.8" height="1" opacity="0.39"/><rect x="339.17" y="111.32" width="1.2" height="0.8" opacity="0.41"/><rect x="343.75" y="262.88" width="1.2" height="0.8" opacity="0.39"/><rect x="339.16" y="197.94" width="1.2" height="1.2" opacity="0.68"/><rect x="342.57" y="92.31" width="1.5" height="1.6" opacity="0.61"/><rect x="340.49" y="103.95" width="1.2" height="1.2" opacity="0.61"/><rect x="345.36" y="254.66" width="1" height="1.2" opacity="0.43"/><rect x="343.45" y="56.55" width="1.2" height="0.8" opacity="0.73"/><rect x="339.84" y="194.08" width="1" height="1.2" opacity="0.77"/><rect x="343.32" y="361.04" width="1.2" height="1" opacity="0.69"/><rect x="346.59" y="352.64" width="1" height="1" opacity="0.8"/><rect x="345.97" y="137.41" width="1.5" height="1.2" opacity="0.75"/><rect x="349.17" y="365.52" width="1.5" height="1.2" opacity="0.46"/><rect x="344.25" y="185" width="1.2" height="1.2" opacity="0.39"/><rect x="337.81" y="235.94" width="1.2" height="1" opacity="0.62"/><rect x="349.11" y="292.7" width="0.8" height="1.6" opacity="0.85"/><rect x="340.9" y="306" width="0.8" height="1.6" opacity="0.78"/><rect x="346.1" y="239.16" width="1" height="1.6" opacity="0.78"/><rect x="340.76" y="369.85" width="1.5" height="1.6" opacity="0.57"/><rect x="348.62" y="339.07" width="1" height="1" opacity="0.37"/><rect x="344.06" y="234.02" width="1" height="1.6" opacity="0.71"/><rect x="340.99" y="267.75" width="1" height="0.8" opacity="0.36"/><rect x="348.93" y="308.65" width="1" height="1.6" opacity="0.89"/><rect x="338.99" y="399.44" width="0.8" height="1.2" opacity="0.47"/><rect x="342.91" y="354.81" width="1.2" height="1.2" opacity="0.65"/><rect x="347.18" y="70.26" width="1.2" height="1.6" opacity="0.71"/><rect x="346.93" y="254.84" width="1" height="1" opacity="0.64"/><rect x="336.74" y="223.81" width="1" height="0.8" opacity="0.78"/><rect x="338.42" y="102.92" width="0.8" height="0.8" opacity="0.53"/><rect x="343.13" y="270.5" width="0.8" height="0.8" opacity="0.49"/><rect x="340.04" y="358.29" width="1.5" height="0.8" opacity="0.77"/><rect x="348.18" y="225.07" width="1" height="1.2" opacity="0.6"/><rect x="343.33" y="239.16" width="1" height="1.2" opacity="0.86"/><rect x="347.93" y="127.63" width="1.5" height="1" opacity="0.58"/><rect x="341.52" y="173.54" width="1" height="1.6" opacity="0.39"/><rect x="345.07" y="363.02" width="1" height="1.2" opacity="0.43"/><rect x="347.8" y="437.36" width="1" height="0.8" opacity="0.57"/><rect x="342.74" y="446.4" width="1" height="1" opacity="0.74"/><rect x="349.22" y="209.1" width="1.5" height="1" opacity="0.55"/><rect x="337.68" y="193.77" width="1.2" height="1.6" opacity="0.59"/><rect x="336.73" y="179.82" width="1.2" height="0.8" opacity="0.41"/><rect x="348.26" y="138.14" width="0.8" height="0.8" opacity="0.5"/><rect x="337.01" y="361.02" width="1.2" height="1" opacity="0.8"/><rect x="347.37" y="319.3" width="1.2" height="1.6" opacity="0.43"/><rect x="348.27" y="276.63" width="1.2" height="0.8" opacity="0.5"/><rect x="346.73" y="119.84" width="0.8" height="1.2" opacity="0.87"/><rect x="344.62" y="370.18" width="0.8" height="1" opacity="0.39"/><rect x="347.54" y="229.33" width="1.2" height="1.6" opacity="0.86"/><rect x="339.93" y="97.92" width="1" height="0.8" opacity="0.88"/><rect x="339.85" y="118.95" width="1.2" height="1.2" opacity="0.64"/><rect x="339.14" y="226.06" width="1" height="1.2" opacity="0.54"/><rect x="336.73" y="147.01" width="0.8" height="0.8" opacity="0.75"/><rect x="343.55" y="122.31" width="1.5" height="1" opacity="0.86"/><rect x="337.86" y="377.18" width="1.5" height="1.6" opacity="0.65"/><rect x="347.88" y="438.48" width="1.2" height="1" opacity="0.89"/><rect x="340.89" y="382.59" width="1" height="1.6" opacity="0.89"/><rect x="349.07" y="384.5" width="0.8" height="0.8" opacity="0.69"/><rect x="347.76" y="220.01" width="0.8" height="0.8" opacity="0.72"/><rect x="341.38" y="250.46" width="1.2" height="1" opacity="0.73"/><rect x="337.08" y="120.65" width="1.2" height="1.6" opacity="0.35"/><rect x="341.16" y="178.78" width="1.2" height="1" opacity="0.37"/><rect x="347.79" y="133.81" width="1" height="0.8" opacity="0.53"/><rect x="337.57" y="158.54" width="1" height="1" opacity="0.63"/><rect x="336.56" y="152.56" width="0.8" height="1" opacity="0.57"/><rect x="337.03" y="54.71" width="1.2" height="1" opacity="0.4"/><rect x="348.76" y="391.08" width="1" height="1.6" opacity="0.77"/><rect x="345.72" y="245.7" width="1.2" height="1" opacity="0.37"/><rect x="347.19" y="406.75" width="1.5" height="1" opacity="0.85"/><rect x="346.14" y="275.78" width="0.8" height="1" opacity="0.4"/><rect x="337.04" y="303.57" width="0.8" height="1.6" opacity="0.81"/><rect x="343.65" y="299.78" width="1" height="1.6" opacity="0.5"/><rect x="342.35" y="73.99" width="0.8" height="0.8" opacity="0.76"/><rect x="342.57" y="373.25" width="1.2" height="1" opacity="0.75"/><rect x="339.13" y="345.16" width="1.5" height="1.6" opacity="0.82"/><rect x="337.48" y="414.25" width="1.2" height="0.8" opacity="0.69"/><rect x="344.73" y="76.97" width="1" height="1.2" opacity="0.49"/><rect x="346.01" y="168.86" width="1" height="0.8" opacity="0.62"/><rect x="342.72" y="439.37" width="0.8" height="1" opacity="0.72"/><rect x="340.22" y="254.75" width="1.5" height="1.6" opacity="0.61"/><rect x="338.02" y="407.44" width="1" height="1.2" opacity="0.89"/><rect x="348.48" y="52.69" width="1.5" height="0.8" opacity="0.8"/><rect x="348.89" y="227.58" width="1.2" height="1.6" opacity="0.47"/><rect x="348.6" y="130.92" width="0.8" height="1" opacity="0.76"/><rect x="339.85" y="191.18" width="1.2" height="0.8" opacity="0.74"/><rect x="339.46" y="409.08" width="1.5" height="1.6" opacity="0.36"/><rect x="336.55" y="244.69" width="1.5" height="1.6" opacity="0.52"/><rect x="338.3" y="184.87" width="1.2" height="0.8" opacity="0.81"/><rect x="336.52" y="349.57" width="1.5" height="0.8" opacity="0.87"/><rect x="339.01" y="50.35" width="1.2" height="1.2" opacity="0.55"/><rect x="341.53" y="450.01" width="0.8" height="1.2" opacity="0.86"/><rect x="346.17" y="391.49" width="1.2" height="0.8" opacity="0.38"/><rect x="344.97" y="302.7" width="1" height="1" opacity="0.88"/><rect x="342.08" y="173.39" width="1.2" height="1.6" opacity="0.84"/><rect x="346.89" y="301.05" width="1" height="0.8" opacity="0.38"/><rect x="345.87" y="228.15" width="1" height="1.2" opacity="0.62"/><rect x="348.17" y="268.34" width="1" height="1.6" opacity="0.58"/><rect x="340.11" y="149.15" width="1.2" height="1.6" opacity="0.71"/><rect x="340.35" y="271.26" width="1.5" height="0.8" opacity="0.44"/><rect x="338.57" y="129.77" width="1.5" height="1" opacity="0.6"/><rect x="340.76" y="353.02" width="1.5" height="1" opacity="0.65"/><rect x="339.62" y="116.33" width="0.8" height="1.2" opacity="0.48"/><rect x="339.81" y="276.24" width="0.8" height="1.6" opacity="0.56"/><rect x="346.05" y="130.63" width="1.2" height="1.2" opacity="0.76"/><rect x="342.88" y="278.13" width="1.2" height="1" opacity="0.73"/><rect x="343.27" y="365.6" width="1" height="0.8" opacity="0.5"/><rect x="339.68" y="207.46" width="1.5" height="1.6" opacity="0.87"/><rect x="347.36" y="399.03" width="0.8" height="1" opacity="0.37"/><rect x="345.58" y="408.27" width="1.5" height="1.6" opacity="0.35"/><rect x="341.51" y="420.87" width="1.5" height="1.6" opacity="0.49"/><rect x="337.9" y="108.11" width="0.8" height="1.6" opacity="0.4"/><rect x="346.44" y="46.15" width="1" height="1" opacity="0.66"/><rect x="336.98" y="335.11" width="1" height="1.2" opacity="0.64"/><rect x="342.1" y="354.88" width="0.8" height="0.8" opacity="0.52"/><rect x="348.58" y="123.22" width="1.2" height="1" opacity="0.78"/><rect x="336.51" y="263.22" width="1.5" height="1.2" opacity="0.88"/><rect x="344.75" y="403.44" width="1.5" height="1" opacity="0.65"/><rect x="336.87" y="212.34" width="1.2" height="0.8" opacity="0.36"/><rect x="342.88" y="318.69" width="1.5" height="0.8" opacity="0.49"/><rect x="345.04" y="420.2" width="1" height="1.6" opacity="0.37"/><rect x="340.83" y="215.88" width="1.5" height="1" opacity="0.35"/><rect x="340.24" y="387.8" width="0.8" height="1" opacity="0.62"/><rect x="339.07" y="355.7" width="1" height="1" opacity="0.61"/><rect x="339.89" y="405.69" width="0.8" height="1.6" opacity="0.69"/><rect x="347.97" y="242" width="0.8" height="1" opacity="0.86"/><rect x="337.2" y="55.17" width="1" height="1.6" opacity="0.38"/><rect x="337.27" y="204.86" width="1.2" height="0.8" opacity="0.9"/><rect x="348.42" y="178.91" width="1" height="1.6" opacity="0.37"/><rect x="345" y="198.9" width="1.2" height="1.2" opacity="0.59"/><rect x="337.89" y="77.28" width="0.8" height="1.2" opacity="0.58"/><rect x="347.83" y="272.8" width="1" height="1.6" opacity="0.55"/><rect x="347.02" y="378.43" width="1.5" height="0.8" opacity="0.38"/><rect x="342.56" y="196.51" width="1.5" height="1" opacity="0.53"/><rect x="345.94" y="237.74" width="1.5" height="1" opacity="0.8"/><rect x="346.31" y="62.06" width="0.8" height="1.6" opacity="0.38"/><rect x="348.28" y="149.67" width="0.8" height="1.2" opacity="0.55"/><rect x="340.79" y="431.78" width="0.8" height="1.2" opacity="0.76"/><rect x="345.33" y="419.82" width="1.2" height="0.8" opacity="0.75"/><rect x="344.12" y="371.81" width="0.8" height="0.8" opacity="0.8"/><rect x="337.87" y="335.33" width="1.5" height="1.6" opacity="0.78"/><rect x="348.19" y="375.51" width="1" height="1.6" opacity="0.45"/><rect x="346.77" y="344.61" width="1" height="1" opacity="0.53"/><rect x="340.59" y="192.12" width="0.8" height="1" opacity="0.57"/><rect x="338.55" y="210.7" width="0.8" height="1.6" opacity="0.65"/><rect x="340.67" y="442.51" width="0.8" height="0.8" opacity="0.5"/><rect x="337.58" y="84.64" width="1.5" height="1.6" opacity="0.45"/><rect x="338.2" y="232.23" width="1" height="0.8" opacity="0.78"/><rect x="340.26" y="158.73" width="1.2" height="1.2" opacity="0.49"/><rect x="339.83" y="223.51" width="1" height="1" opacity="0.48"/><rect x="340.1" y="413.07" width="1" height="1.2" opacity="0.39"/><rect x="339.72" y="145.18" width="1" height="0.8" opacity="0.71"/><rect x="349.18" y="87.03" width="1.5" height="1" opacity="0.81"/><rect x="348.2" y="61.94" width="1.2" height="1" opacity="0.42"/><rect x="338.93" y="439.55" width="1" height="0.8" opacity="0.55"/><rect x="347.59" y="227.45" width="1.2" height="0.8" opacity="0.41"/><rect x="344.13" y="296.62" width="1" height="0.8" opacity="0.55"/><rect x="338.31" y="128.19" width="1.2" height="0.8" opacity="0.68"/><rect x="344.84" y="127.97" width="0.8" height="1.2" opacity="0.57"/><rect x="341.26" y="297.05" width="0.8" height="1" opacity="0.37"/><rect x="342.84" y="241.37" width="1.5" height="0.8" opacity="0.79"/><rect x="345" y="108.18" width="0.8" height="1" opacity="0.57"/><rect x="339.97" y="445.74" width="1.2" height="1.6" opacity="0.87"/><rect x="340.5" y="274.98" width="1.2" height="1.6" opacity="0.58"/><rect x="347.56" y="449.13" width="1.2" height="1" opacity="0.56"/><rect x="341.68" y="427.01" width="1.5" height="1" opacity="0.58"/><rect x="347" y="210.08" width="1.2" height="1.6" opacity="0.78"/><rect x="338.16" y="66.53" width="1" height="1.6" opacity="0.4"/><rect x="344.46" y="195.75" width="1" height="1" opacity="0.54"/><rect x="338.57" y="115.16" width="0.8" height="0.8" opacity="0.56"/><rect x="346.15" y="366.34" width="1" height="1.2" opacity="0.42"/><rect x="348.57" y="440.6" width="1.5" height="1.2" opacity="0.38"/><rect x="348.35" y="202.66" width="1" height="1" opacity="0.69"/><rect x="344.37" y="125.01" width="1.5" height="1" opacity="0.66"/><rect x="337.03" y="425.62" width="1" height="1.6" opacity="0.55"/><rect x="338.41" y="438.63" width="1" height="0.8" opacity="0.84"/><rect x="347.28" y="317.8" width="1.2" height="0.8" opacity="0.56"/><rect x="342.33" y="389.36" width="1.2" height="1.6" opacity="0.52"/><rect x="339.69" y="203.19" width="1.2" height="1.6" opacity="0.63"/><rect x="338.79" y="47.02" width="1.5" height="1.6" opacity="0.48"/><rect x="346.27" y="361.41" width="1.5" height="1" opacity="0.8"/><rect x="341.62" y="72.78" width="1.2" height="1.6" opacity="0.55"/><rect x="346.77" y="249.81" width="0.8" height="0.8" opacity="0.7"/><rect x="337.55" y="342.59" width="0.8" height="0.8" opacity="0.76"/><rect x="347.95" y="309.9" width="1" height="0.8" opacity="0.82"/><rect x="349.25" y="342.02" width="0.8" height="1" opacity="0.42"/><rect x="347.84" y="162.16" width="1" height="1" opacity="0.39"/><rect x="340.99" y="351.78" width="1" height="1.2" opacity="0.84"/><rect x="340.02" y="375.85" width="1" height="1.2" opacity="0.63"/><rect x="348.27" y="129.95" width="1.2" height="1" opacity="0.53"/><rect x="336.97" y="119.33" width="1" height="1.2" opacity="0.72"/><rect x="347.96" y="113.92" width="1.2" height="0.8" opacity="0.77"/><rect x="337.12" y="393.12" width="1.5" height="0.8" opacity="0.49"/><rect x="343.36" y="392.44" width="1.2" height="1.2" opacity="0.56"/><rect x="341.22" y="104.79" width="1.2" height="0.8" opacity="0.59"/><rect x="338.76" y="346.68" width="0.8" height="1.2" opacity="0.8"/><rect x="339.75" y="304.43" width="1.2" height="0.8" opacity="0.76"/><rect x="339.34" y="163.41" width="1.5" height="1.6" opacity="0.63"/><rect x="347.96" y="99.06" width="1" height="0.8" opacity="0.36"/><rect x="336.53" y="189.32" width="0.8" height="1.2" opacity="0.64"/><rect x="341.79" y="167.54" width="1" height="1" opacity="0.55"/><rect x="347.1" y="109.83" width="0.8" height="1" opacity="0.74"/><rect x="342.27" y="71.38" width="1" height="1.2" opacity="0.57"/><rect x="339.88" y="50.25" width="1.2" height="1.6" opacity="0.68"/><rect x="343.13" y="245.16" width="1" height="0.8" opacity="0.37"/><rect x="343.3" y="209.98" width="1" height="1" opacity="0.38"/><rect x="346.47" y="50.6" width="1" height="1" opacity="0.58"/><rect x="343.13" y="305.83" width="1.5" height="1" opacity="0.63"/><rect x="337.32" y="299.05" width="1.5" height="0.8" opacity="0.56"/><rect x="342.09" y="414.97" width="0.8" height="1.6" opacity="0.45"/><rect x="349.26" y="151.45" width="0.8" height="0.8" opacity="0.53"/><rect x="346.1" y="327.05" width="1.2" height="0.8" opacity="0.5"/><rect x="343.59" y="222.16" width="1.2" height="1.2" opacity="0.7"/><rect x="348.85" y="133.46" width="0.8" height="1" opacity="0.49"/><rect x="339.52" y="346.8" width="1" height="1.2" opacity="0.46"/><rect x="341.48" y="289.04" width="1.5" height="1.6" opacity="0.61"/><rect x="343.29" y="48.18" width="0.8" height="1.6" opacity="0.88"/><rect x="339.49" y="403.84" width="1" height="1.6" opacity="0.69"/><rect x="337.5" y="414.38" width="1" height="0.8" opacity="0.36"/><rect x="337.87" y="421.73" width="1.2" height="1" opacity="0.74"/><rect x="336.9" y="101.64" width="0.8" height="0.8" opacity="0.76"/><rect x="337.34" y="284.68" width="1.2" height="1" opacity="0.8"/><rect x="346.99" y="406.48" width="0.8" height="1.6" opacity="0.41"/><rect x="339.13" y="90.94" width="0.8" height="0.8" opacity="0.8"/><rect x="344.58" y="161.95" width="0.8" height="1" opacity="0.4"/><rect x="346.19" y="128.6" width="1.2" height="1.2" opacity="0.58"/><rect x="336.77" y="149.54" width="1.2" height="0.8" opacity="0.74"/><rect x="341.21" y="175.5" width="1.5" height="1.2" opacity="0.69"/><rect x="336.9" y="212.79" width="1.5" height="0.8" opacity="0.54"/><rect x="345.52" y="263.39" width="1" height="0.8" opacity="0.67"/><rect x="340.18" y="222.16" width="1" height="1.2" opacity="0.77"/><rect x="349.02" y="47.37" width="1.5" height="0.8" opacity="0.62"/><rect x="346.7" y="120.31" width="1.5" height="1.2" opacity="0.88"/><rect x="343.09" y="279.64" width="1" height="1.2" opacity="0.8"/><rect x="348.51" y="139.35" width="1" height="0.8" opacity="0.87"/><rect x="346.32" y="244.12" width="0.8" height="1.2" opacity="0.55"/><rect x="341.64" y="205.37" width="0.8" height="1.6" opacity="0.84"/><rect x="336.82" y="129.06" width="1.2" height="1.6" opacity="0.85"/><rect x="342.92" y="199.18" width="1" height="1.6" opacity="0.42"/><rect x="344.1" y="324.67" width="0.8" height="1.2" opacity="0.67"/><rect x="343.18" y="397.05" width="1.5" height="1.2" opacity="0.44"/><rect x="342.12" y="358.76" width="1" height="1" opacity="0.53"/><rect x="344.73" y="327.64" width="1" height="1.2" opacity="0.52"/><rect x="345.5" y="387.2" width="1" height="1" opacity="0.89"/><rect x="345.76" y="289.71" width="1.2" height="1" opacity="0.48"/><rect x="348.73" y="150.34" width="0.8" height="1" opacity="0.88"/><rect x="337.8" y="201.18" width="1" height="1.2" opacity="0.75"/><rect x="342.07" y="125.04" width="0.8" height="1.2" opacity="0.46"/><rect x="341.47" y="59.34" width="1.5" height="1.6" opacity="0.73"/><rect x="342.91" y="301.65" width="1.5" height="0.8" opacity="0.43"/><rect x="344.23" y="209.47" width="1" height="1.6" opacity="0.74"/><rect x="344.02" y="307.65" width="1" height="1" opacity="0.72"/><rect x="344.71" y="229.39" width="1.2" height="1.2" opacity="0.7"/><rect x="337.75" y="215.49" width="1.5" height="1" opacity="0.49"/><rect x="341.92" y="229.91" width="1.5" height="1" opacity="0.84"/><rect x="340.7" y="49.9" width="1.5" height="0.8" opacity="0.37"/><rect x="343.46" y="110.73" width="1" height="1.2" opacity="0.41"/><rect x="343.85" y="264.67" width="1.5" height="0.8" opacity="0.7"/><rect x="347.11" y="256.83" width="1.5" height="1.6" opacity="0.47"/><rect x="345.26" y="204.52" width="0.8" height="1.2" opacity="0.7"/><rect x="339.73" y="200.21" width="0.8" height="0.8" opacity="0.39"/><rect x="348.22" y="300.11" width="1.2" height="1.2" opacity="0.41"/><rect x="340.38" y="207.75" width="1" height="1.6" opacity="0.6"/><rect x="338.61" y="421.92" width="0.8" height="1" opacity="0.61"/><rect x="343.69" y="137.1" width="1" height="1.2" opacity="0.72"/><rect x="347.13" y="367.6" width="1.5" height="1.6" opacity="0.9"/><rect x="346.23" y="308.63" width="1.5" height="1.2" opacity="0.78"/><rect x="339.45" y="330.73" width="1.2" height="1.6" opacity="0.72"/><rect x="342.66" y="371.72" width="1.2" height="1.2" opacity="0.48"/><rect x="340.36" y="239.77" width="1.5" height="0.8" opacity="0.71"/><rect x="341.14" y="421.64" width="1.5" height="0.8" opacity="0.4"/><rect x="343.73" y="177.07" width="1" height="1.2" opacity="0.7"/><rect x="336.69" y="50.25" width="0.8" height="1.2" opacity="0.49"/><rect x="337.8" y="103.39" width="1" height="1" opacity="0.78"/><rect x="340.93" y="107.42" width="1.5" height="1" opacity="0.69"/><rect x="345.31" y="441.26" width="0.8" height="1.2" opacity="0.46"/><rect x="345.37" y="260.52" width="1.5" height="0.8" opacity="0.66"/><rect x="339.89" y="140.42" width="1" height="1.6" opacity="0.62"/><rect x="337.25" y="234.73" width="1" height="1.6" opacity="0.49"/><rect x="338.61" y="288.38" width="0.8" height="1" opacity="0.81"/><rect x="342.49" y="273.38" width="1.2" height="1.6" opacity="0.56"/><rect x="341.86" y="434.55" width="0.8" height="1" opacity="0.7"/><rect x="344.64" y="57.15" width="0.8" height="1.2" opacity="0.79"/><rect x="337.7" y="241.64" width="1" height="0.8" opacity="0.47"/><rect x="341.82" y="96.98" width="0.8" height="1.2" opacity="0.54"/><rect x="346.47" y="269.97" width="1" height="1.2" opacity="0.59"/><rect x="341.91" y="269.93" width="1.2" height="1.2" opacity="0.55"/><rect x="342.82" y="180.72" width="1.2" height="1.2" opacity="0.89"/><rect x="344.88" y="366.26" width="1.2" height="1" opacity="0.52"/><rect x="340.33" y="283.05" width="0.8" height="0.8" opacity="0.57"/><rect x="343.59" y="210" width="0.8" height="1.6" opacity="0.52"/><rect x="336.58" y="122.51" width="1.5" height="0.8" opacity="0.78"/><rect x="348.15" y="293.29" width="1" height="0.8" opacity="0.47"/><rect x="345.04" y="231" width="1" height="0.8" opacity="0.71"/><rect x="347.63" y="216.29" width="0.8" height="0.8" opacity="0.55"/><rect x="347.03" y="364.07" width="1.2" height="1.2" opacity="0.45"/><rect x="336.94" y="53.86" width="0.8" height="1.6" opacity="0.66"/><rect x="337" y="93.72" width="1.5" height="1.6" opacity="0.6"/><rect x="336.68" y="202.35" width="1" height="1.6" opacity="0.77"/><rect x="343.52" y="79.18" width="1.5" height="1" opacity="0.84"/><rect x="344.52" y="218.49" width="0.8" height="0.8" opacity="0.89"/><rect x="347.49" y="133.97" width="0.8" height="1" opacity="0.61"/><rect x="340.03" y="275.98" width="1.5" height="1" opacity="0.86"/><rect x="341.18" y="348.16" width="1" height="0.8" opacity="0.51"/><rect x="343.64" y="247.28" width="1.2" height="0.8" opacity="0.74"/><rect x="336.65" y="51.56" width="0.8" height="1.6" opacity="0.52"/><rect x="345.84" y="112.81" width="1.5" height="0.8" opacity="0.52"/><rect x="348.64" y="340.27" width="1.5" height="1" opacity="0.43"/><rect x="346.71" y="192.69" width="1" height="1.6" opacity="0.61"/><rect x="346.46" y="228.92" width="1.2" height="1.2" opacity="0.51"/><rect x="337.28" y="439.95" width="1.2" height="0.8" opacity="0.81"/><rect x="344.19" y="170.55" width="1.5" height="1" opacity="0.56"/><rect x="345.27" y="289.26" width="1" height="1.6" opacity="0.51"/><rect x="336.52" y="152.11" width="1.5" height="1" opacity="0.67"/><rect x="346.94" y="404.92" width="0.8" height="1.2" opacity="0.81"/><rect x="346.89" y="396.73" width="1" height="1.2" opacity="0.89"/><rect x="346.7" y="267.42" width="1.5" height="1.2" opacity="0.64"/><rect x="343.41" y="241.88" width="1.5" height="1" opacity="0.78"/><rect x="345.74" y="443.32" width="1.2" height="0.8" opacity="0.72"/><rect x="342.46" y="129.25" width="1.2" height="0.8" opacity="0.79"/><rect x="342.38" y="81.11" width="1.2" height="0.8" opacity="0.48"/><rect x="343.92" y="408.77" width="1.2" height="1.6" opacity="0.63"/><rect x="339.08" y="131.72" width="0.8" height="1" opacity="0.79"/><rect x="340.21" y="279.58" width="1.2" height="1.6" opacity="0.78"/><rect x="347.47" y="145.33" width="1.5" height="1.2" opacity="0.83"/><rect x="341.26" y="233.24" width="0.8" height="1" opacity="0.52"/><rect x="336.89" y="159.19" width="0.8" height="0.8" opacity="0.37"/><rect x="349.18" y="396.28" width="1.5" height="1" opacity="0.49"/><rect x="346.47" y="218.07" width="1.5" height="1" opacity="0.49"/><rect x="336.98" y="126.98" width="1" height="1.6" opacity="0.4"/><rect x="337.15" y="271.28" width="1.5" height="1.6" opacity="0.87"/><rect x="348.15" y="71.59" width="1.5" height="0.8" opacity="0.74"/><rect x="337.65" y="174.65" width="1" height="0.8" opacity="0.88"/><rect x="345.07" y="204.77" width="1.5" height="1" opacity="0.55"/><rect x="339.51" y="337.42" width="1" height="0.8" opacity="0.87"/><rect x="348.55" y="69.6" width="0.8" height="0.8" opacity="0.49"/><rect x="343.07" y="345.05" width="1.5" height="0.8" opacity="0.41"/><rect x="340.57" y="47.94" width="1" height="1.2" opacity="0.67"/><rect x="342.15" y="309.8" width="1.5" height="1.2" opacity="0.55"/><rect x="341.49" y="197.43" width="1.5" height="1" opacity="0.59"/><rect x="346.84" y="415.8" width="0.8" height="1.6" opacity="0.74"/><rect x="339" y="60.18" width="1" height="0.8" opacity="0.86"/><rect x="347.59" y="405.44" width="1" height="1.6" opacity="0.88"/><rect x="348.35" y="201.52" width="0.8" height="0.8" opacity="0.6"/><rect x="340.85" y="378.86" width="1.5" height="0.8" opacity="0.7"/><rect x="338.33" y="135.35" width="0.8" height="1" opacity="0.74"/><rect x="343.58" y="104.19" width="1" height="1.2" opacity="0.58"/><rect x="339.66" y="55.89" width="1.2" height="1.2" opacity="0.79"/><rect x="339.84" y="89.83" width="1.5" height="1.6" opacity="0.41"/><rect x="349.03" y="68.62" width="1" height="1.6" opacity="0.81"/><rect x="338.03" y="351.24" width="1.2" height="1.6" opacity="0.9"/><rect x="349.28" y="420.16" width="0.8" height="1.6" opacity="0.51"/><rect x="347.97" y="68.87" width="1.2" height="1" opacity="0.89"/><rect x="336.71" y="372.36" width="1.2" height="1" opacity="0.59"/><rect x="346.61" y="427.68" width="1.2" height="1" opacity="0.55"/><rect x="337.02" y="211.18" width="1.2" height="1" opacity="0.43"/><rect x="338.81" y="357.55" width="1" height="1" opacity="0.68"/><rect x="347.11" y="405.69" width="1.5" height="1.2" opacity="0.45"/><rect x="338.25" y="316.84" width="1" height="1.2" opacity="0.46"/><rect x="337.34" y="342.28" width="1.5" height="0.8" opacity="0.64"/><rect x="340.95" y="159.68" width="1.5" height="0.8" opacity="0.36"/><rect x="348.15" y="238.58" width="1.2" height="1" opacity="0.45"/><rect x="347.14" y="194.24" width="1" height="1.2" opacity="0.67"/><rect x="347.48" y="189.81" width="1.5" height="0.8" opacity="0.42"/><rect x="345.65" y="376.22" width="1.2" height="1.6" opacity="0.67"/><rect x="347.99" y="163.65" width="0.8" height="1.6" opacity="0.6"/><rect x="336.83" y="371.34" width="1" height="0.8" opacity="0.48"/><rect x="337.63" y="296.27" width="1" height="0.8" opacity="0.52"/><rect x="343.61" y="432.42" width="0.8" height="0.8" opacity="0.86"/><rect x="345.96" y="151.45" width="1.5" height="1" opacity="0.74"/><rect x="337.82" y="397.67" width="1" height="0.8" opacity="0.5"/><rect x="342.45" y="282.83" width="1.2" height="0.8" opacity="0.42"/><rect x="341.69" y="101.05" width="1" height="1" opacity="0.43"/><rect x="343.83" y="347.89" width="1" height="0.8" opacity="0.87"/><rect x="341.48" y="215.85" width="0.8" height="1.6" opacity="0.88"/><rect x="337.17" y="192.68" width="1.5" height="1" opacity="0.81"/><rect x="345.66" y="386.94" width="1.2" height="1.6" opacity="0.82"/><rect x="337.19" y="255.08" width="1.2" height="1" opacity="0.83"/><rect x="344.99" y="50.28" width="0.8" height="1" opacity="0.39"/><rect x="342.04" y="249.98" width="0.8" height="1" opacity="0.43"/><rect x="348.91" y="360.04" width="1.5" height="0.8" opacity="0.8"/><rect x="347.82" y="403.79" width="0.8" height="1.2" opacity="0.85"/><rect x="344.48" y="299.98" width="0.8" height="0.8" opacity="0.49"/><rect x="343.16" y="221.2" width="0.8" height="1.2" opacity="0.41"/><rect x="340.95" y="113.21" width="0.8" height="1.2" opacity="0.4"/><rect x="344.06" y="422.94" width="1.5" height="0.8" opacity="0.63"/><rect x="347.83" y="416.32" width="1.2" height="1.2" opacity="0.48"/><rect x="337.62" y="266.8" width="1.5" height="1" opacity="0.71"/><rect x="339.08" y="333.22" width="1.5" height="1.2" opacity="0.69"/><rect x="342.5" y="171.32" width="1" height="1.2" opacity="0.47"/><rect x="343.06" y="200.75" width="1.5" height="0.8" opacity="0.86"/><rect x="338.58" y="431.1" width="1.2" height="1.2" opacity="0.62"/><rect x="340.15" y="445.44" width="1.2" height="0.8" opacity="0.77"/><rect x="338.53" y="72.65" width="1.2" height="1.6" opacity="0.71"/><rect x="343.12" y="383.42" width="1.2" height="0.8" opacity="0.64"/><rect x="349.16" y="319.98" width="1" height="1.6" opacity="0.54"/><rect x="341.01" y="319.05" width="1.2" height="0.8" opacity="0.76"/><rect x="346.01" y="353.2" width="1.5" height="1.2" opacity="0.78"/><rect x="345.57" y="415.96" width="1" height="1.6" opacity="0.83"/><rect x="336.56" y="355.62" width="0.8" height="1.6" opacity="0.57"/><rect x="349.21" y="106.19" width="1.2" height="0.8" opacity="0.56"/><rect x="342.29" y="231" width="1.2" height="1.2" opacity="0.54"/><rect x="343.23" y="286.69" width="1.2" height="0.8" opacity="0.78"/><rect x="347.37" y="247.87" width="1.5" height="1.2" opacity="0.45"/><rect x="340.39" y="104.31" width="1.5" height="1" opacity="0.4"/><rect x="348.28" y="176.73" width="1" height="1.2" opacity="0.46"/><rect x="341.96" y="414.29" width="0.8" height="0.8" opacity="0.38"/><rect x="343.73" y="246.97" width="1.2" height="1.6" opacity="0.63"/><rect x="343.12" y="323.05" width="1.5" height="1.6" opacity="0.55"/><rect x="344.11" y="187.76" width="0.8" height="0.8" opacity="0.64"/><rect x="337.77" y="197.2" width="1.5" height="1" opacity="0.83"/><rect x="348.85" y="242.67" width="1.5" height="1.2" opacity="0.73"/><rect x="346.05" y="82.95" width="1.2" height="1.2" opacity="0.55"/><rect x="337.46" y="171.37" width="1" height="0.8" opacity="0.71"/><rect x="340.27" y="184.62" width="1.5" height="1" opacity="0.64"/><rect x="346.95" y="129.74" width="1" height="1.6" opacity="0.45"/><rect x="344.57" y="289.81" width="1.2" height="0.8" opacity="0.73"/><rect x="336.64" y="46.73" width="0.8" height="1.2" opacity="0.57"/><rect x="337.76" y="51.85" width="0.8" height="1" opacity="0.45"/><rect x="346.34" y="275.19" width="1" height="1" opacity="0.58"/><rect x="338.06" y="109.08" width="0.8" height="0.8" opacity="0.41"/><rect x="338.68" y="257.16" width="1.5" height="1.6" opacity="0.79"/><rect x="337.3" y="50.66" width="1.2" height="1" opacity="0.74"/><rect x="341.03" y="114.2" width="1.2" height="0.8" opacity="0.82"/><rect x="348.63" y="71.12" width="1" height="1.6" opacity="0.69"/><rect x="336.75" y="134.7" width="1.5" height="0.8" opacity="0.59"/><rect x="344.44" y="146.55" width="0.8" height="1" opacity="0.86"/><rect x="347.44" y="173.06" width="1.5" height="1.2" opacity="0.58"/><rect x="339.73" y="404.68" width="0.8" height="1" opacity="0.72"/><rect x="345.14" y="282.39" width="1.5" height="1.2" opacity="0.57"/><rect x="345.61" y="54.68" width="1" height="0.8" opacity="0.45"/><rect x="341.09" y="121.14" width="1.2" height="1.6" opacity="0.66"/><rect x="337.97" y="261.72" width="1.5" height="1.2" opacity="0.57"/><rect x="337.34" y="95.52" width="1.2" height="1" opacity="0.56"/><rect x="342.48" y="185.08" width="1.5" height="0.8" opacity="0.5"/><rect x="336.82" y="371.49" width="1" height="1" opacity="0.4"/><rect x="339.95" y="383.69" width="1" height="1.6" opacity="0.61"/><rect x="346.68" y="142.85" width="1.2" height="1.2" opacity="0.47"/><rect x="341.69" y="300.42" width="1" height="1.2" opacity="0.87"/><rect x="342.96" y="137.62" width="1.5" height="1" opacity="0.87"/><rect x="349.27" y="286.9" width="1.5" height="1.2" opacity="0.64"/><rect x="341.67" y="252.18" width="1" height="0.8" opacity="0.72"/><rect x="337.67" y="390.52" width="1.5" height="0.8" opacity="0.71"/><rect x="343.77" y="171.44" width="1.5" height="0.8" opacity="0.73"/><rect x="346.43" y="139.36" width="1" height="0.8" opacity="0.39"/><rect x="348.2" y="371.62" width="1.2" height="1" opacity="0.39"/><rect x="340.48" y="137.28" width="1" height="1.6" opacity="0.51"/><rect x="341.66" y="413.62" width="1" height="1.2" opacity="0.45"/><rect x="341.19" y="369.27" width="1.2" height="1.6" opacity="0.36"/><rect x="345.51" y="232.9" width="1.5" height="1.2" opacity="0.85"/><rect x="337.75" y="163.62" width="1.2" height="1" opacity="0.74"/><rect x="337.02" y="61.8" width="1" height="1.6" opacity="0.46"/><rect x="340.38" y="199.76" width="0.8" height="1.2" opacity="0.7"/><rect x="348.55" y="274.19" width="1" height="1.6" opacity="0.74"/><rect x="339.76" y="221.7" width="1.2" height="0.8" opacity="0.41"/><rect x="346.28" y="310.98" width="0.8" height="0.8" opacity="0.89"/><rect x="345.22" y="60.63" width="1.2" height="1" opacity="0.78"/><rect x="340.92" y="415.54" width="1.5" height="1.6" opacity="0.9"/><rect x="344.38" y="135" width="0.8" height="1.2" opacity="0.87"/><rect x="341.93" y="422.24" width="1.5" height="0.8" opacity="0.72"/><rect x="339.14" y="318.15" width="1" height="1.6" opacity="0.77"/><rect x="337.06" y="330.14" width="1.2" height="1" opacity="0.65"/><rect x="348.91" y="303.73" width="1.2" height="1" opacity="0.88"/><rect x="338.65" y="186.19" width="0.8" height="1" opacity="0.7"/><rect x="338.26" y="323.46" width="1.5" height="1.6" opacity="0.48"/><rect x="339.59" y="254.28" width="1.5" height="1" opacity="0.86"/><rect x="341" y="166.82" width="1" height="1" opacity="0.53"/><rect x="346.94" y="267.59" width="1" height="1" opacity="0.68"/><rect x="342.4" y="355.82" width="1" height="0.8" opacity="0.73"/><rect x="336.66" y="242.63" width="0.8" height="0.8" opacity="0.84"/><rect x="340.39" y="90.38" width="1.2" height="1.6" opacity="0.88"/><rect x="338.56" y="225.81" width="1.2" height="1.2" opacity="0.44"/><rect x="337.42" y="49.98" width="1.5" height="0.8" opacity="0.76"/><rect x="340.75" y="344.82" width="1.2" height="0.8" opacity="0.7"/><rect x="348.75" y="243.33" width="1.2" height="0.8" opacity="0.55"/><rect x="337.66" y="161.39" width="1.2" height="1" opacity="0.39"/><rect x="346.07" y="55.84" width="1.5" height="1" opacity="0.51"/><rect x="338.88" y="303.97" width="1" height="0.8" opacity="0.78"/><rect x="347.13" y="346.17" width="1.2" height="1.6" opacity="0.45"/><rect x="347.06" y="175.23" width="1.2" height="1" opacity="0.65"/><rect x="341.23" y="382.23" width="1" height="0.8" opacity="0.37"/><rect x="343.76" y="299.96" width="1.5" height="0.8" opacity="0.87"/><rect x="342.83" y="247.86" width="1" height="1.2" opacity="0.68"/><rect x="344.52" y="103.05" width="1" height="1" opacity="0.43"/><rect x="344.65" y="208.12" width="0.8" height="1.6" opacity="0.61"/><rect x="339.29" y="196.42" width="0.8" height="1.6" opacity="0.43"/><rect x="337.42" y="67.99" width="1.5" height="1.2" opacity="0.38"/><rect x="336.61" y="432.69" width="1" height="1" opacity="0.56"/><rect x="336.55" y="371.21" width="1.2" height="1" opacity="0.61"/><rect x="343.45" y="254.84" width="1.5" height="1" opacity="0.89"/><rect x="348.81" y="296.59" width="0.8" height="1.2" opacity="0.69"/><rect x="340.3" y="276.85" width="1.2" height="1.6" opacity="0.71"/><rect x="338.25" y="395.94" width="0.8" height="1" opacity="0.47"/><rect x="345.97" y="325.53" width="1" height="1.2" opacity="0.66"/><rect x="348.57" y="191.36" width="1" height="1.6" opacity="0.57"/><rect x="337.96" y="118.69" width="1" height="0.8" opacity="0.47"/><rect x="347.22" y="308.65" width="1" height="1.2" opacity="0.74"/><rect x="339.41" y="231.11" width="0.8" height="0.8" opacity="0.82"/><rect x="345.2" y="369.66" width="1" height="0.8" opacity="0.69"/><rect x="348.79" y="254.19" width="1.5" height="1.6" opacity="0.65"/><rect x="348.89" y="123.2" width="1.5" height="0.8" opacity="0.43"/><rect x="346.43" y="68.9" width="1" height="0.8" opacity="0.55"/><rect x="336.69" y="286.24" width="1" height="1.6" opacity="0.51"/><rect x="345.56" y="218.08" width="0.8" height="1" opacity="0.66"/><rect x="348.24" y="398.18" width="1" height="1.2" opacity="0.76"/><rect x="340.87" y="354.79" width="0.8" height="1.2" opacity="0.42"/><rect x="341.27" y="344.11" width="1.2" height="1.6" opacity="0.37"/><rect x="344.23" y="85.95" width="1.2" height="0.8" opacity="0.37"/><rect x="348.15" y="143.77" width="1.2" height="1" opacity="0.73"/><rect x="336.77" y="445.94" width="1.5" height="0.8" opacity="0.79"/><rect x="342.75" y="75.46" width="1.2" height="1" opacity="0.43"/><rect x="348.42" y="399.38" width="1.5" height="1" opacity="0.67"/><rect x="339.7" y="449.39" width="1.2" height="1.6" opacity="0.36"/><rect x="340.88" y="106.71" width="1.5" height="0.8" opacity="0.79"/><rect x="336.95" y="119.41" width="1.5" height="1.6" opacity="0.88"/><rect x="345.37" y="227.23" width="1" height="0.8" opacity="0.55"/><rect x="343.26" y="171.63" width="1" height="0.8" opacity="0.47"/><rect x="346.99" y="340.06" width="1.2" height="1.6" opacity="0.56"/><rect x="341.03" y="48.02" width="1.5" height="1.2" opacity="0.47"/><rect x="339.68" y="400.41" width="0.8" height="1" opacity="0.75"/><rect x="338.34" y="201.26" width="0.8" height="1.2" opacity="0.55"/><rect x="343.84" y="282.23" width="1" height="0.8" opacity="0.85"/><rect x="348.05" y="84.17" width="1" height="1.6" opacity="0.7"/><rect x="344.62" y="192.54" width="1.2" height="1" opacity="0.83"/><rect x="348.51" y="321.47" width="1.2" height="1.2" opacity="0.76"/><rect x="343.01" y="302.8" width="1.2" height="1.6" opacity="0.53"/><rect x="345.51" y="317.59" width="1.5" height="1.2" opacity="0.84"/><rect x="346.86" y="449.14" width="1" height="1" opacity="0.46"/><rect x="347.88" y="317.45" width="1.5" height="1.6" opacity="0.57"/><rect x="346.39" y="421.95" width="0.8" height="1" opacity="0.52"/><rect x="340.45" y="339.82" width="1.2" height="0.8" opacity="0.86"/><rect x="343.97" y="78" width="1" height="1.2" opacity="0.67"/><rect x="349.14" y="190.14" width="1.5" height="0.8" opacity="0.81"/><rect x="340.59" y="116.55" width="1.2" height="0.8" opacity="0.77"/><rect x="344.52" y="141.52" width="0.8" height="1" opacity="0.38"/><rect x="342.23" y="407.11" width="1.2" height="0.8" opacity="0.46"/><rect x="345.89" y="435.58" width="0.8" height="0.8" opacity="0.39"/><rect x="346.95" y="278.61" width="1" height="0.8" opacity="0.45"/><rect x="343.37" y="400.07" width="1.2" height="0.8" opacity="0.47"/><rect x="340.68" y="349" width="1.5" height="1.6" opacity="0.69"/><rect x="346.74" y="116.26" width="1.5" height="0.8" opacity="0.4"/><rect x="344.34" y="359.79" width="1.5" height="1.2" opacity="0.87"/><rect x="347.68" y="56.02" width="1.2" height="1.2" opacity="0.38"/><rect x="344.36" y="338.8" width="1.2" height="1" opacity="0.4"/><rect x="338.5" y="103.36" width="0.8" height="1.2" opacity="0.8"/><rect x="341.92" y="263.7" width="1" height="1.2" opacity="0.48"/><rect x="344.42" y="374.97" width="1.5" height="0.8" opacity="0.78"/><rect x="340.46" y="358.43" width="1.5" height="1.2" opacity="0.55"/><rect x="343.28" y="156.51" width="1.2" height="0.8" opacity="0.66"/><rect x="337.78" y="373.24" width="1.2" height="1" opacity="0.89"/><rect x="339.42" y="351.94" width="0.8" height="0.8" opacity="0.69"/><rect x="338.06" y="265.57" width="1" height="1" opacity="0.49"/><rect x="344.26" y="344.25" width="1" height="1" opacity="0.64"/><rect x="340.99" y="332.93" width="1.5" height="1.6" opacity="0.47"/><rect x="348.18" y="410.43" width="1.5" height="1.6" opacity="0.47"/><rect x="346.61" y="56.32" width="0.8" height="0.8" opacity="0.79"/><rect x="348.19" y="318.59" width="1.2" height="0.8" opacity="0.48"/><rect x="341.31" y="412.85" width="1.5" height="1" opacity="0.37"/><rect x="336.77" y="332.78" width="1" height="1" opacity="0.54"/><rect x="340.67" y="217.93" width="1.2" height="1.2" opacity="0.83"/><rect x="342.88" y="442.95" width="1" height="1.6" opacity="0.82"/><rect x="347.63" y="153.82" width="1" height="1.2" opacity="0.51"/><rect x="340.74" y="242.2" width="1" height="1" opacity="0.53"/><rect x="344.31" y="433.02" width="1" height="0.8" opacity="0.84"/><rect x="339.19" y="403.36" width="1.2" height="0.8" opacity="0.78"/><rect x="347.55" y="119.41" width="1" height="1.2" opacity="0.73"/><rect x="346.8" y="107.12" width="0.8" height="1" opacity="0.85"/><rect x="338.43" y="343.61" width="0.8" height="1" opacity="0.61"/><rect x="341.58" y="213.31" width="1.5" height="1.2" opacity="0.89"/><rect x="336.92" y="140.59" width="0.8" height="0.8" opacity="0.42"/><rect x="344.12" y="278.36" width="0.8" height="0.8" opacity="0.38"/><rect x="347.94" y="71.74" width="0.8" height="0.8" opacity="0.88"/><rect x="348.92" y="258.34" width="0.8" height="1" opacity="0.47"/><rect x="343.42" y="301.98" width="0.8" height="1.2" opacity="0.81"/><rect x="348.75" y="76.91" width="1" height="1" opacity="0.75"/><rect x="339.99" y="117.36" width="1.2" height="1.2" opacity="0.39"/><rect x="337.05" y="251.59" width="1.5" height="1.2" opacity="0.5"/><rect x="340.67" y="62.37" width="1.5" height="1.2" opacity="0.65"/><rect x="345.34" y="443.36" width="1.2" height="1.6" opacity="0.58"/><rect x="343.41" y="200.67" width="1" height="1.6" opacity="0.77"/><rect x="347.79" y="371.04" width="0.8" height="1" opacity="0.68"/><rect x="348.36" y="148.71" width="1.5" height="1" opacity="0.8"/><rect x="344.99" y="80.75" width="0.8" height="0.8" opacity="0.57"/><rect x="343.65" y="322.9" width="1.5" height="1.2" opacity="0.6"/><rect x="343.89" y="237.31" width="1.5" height="1.2" opacity="0.68"/><rect x="349.23" y="140.52" width="1.5" height="1.2" opacity="0.74"/><rect x="341.54" y="258.68" width="1.2" height="0.8" opacity="0.7"/><rect x="343.45" y="136" width="1.2" height="1.2" opacity="0.85"/><rect x="342.56" y="337.76" width="1.5" height="1" opacity="0.9"/><rect x="337.34" y="352.21" width="1.2" height="1" opacity="0.64"/><rect x="346.91" y="142.23" width="1" height="1" opacity="0.8"/><rect x="342.39" y="304.95" width="0.8" height="1.2" opacity="0.56"/><rect x="347.15" y="376.72" width="0.8" height="1.6" opacity="0.43"/><rect x="339.72" y="87.22" width="1.2" height="1.2" opacity="0.6"/><rect x="337.63" y="205.76" width="1.5" height="0.8" opacity="0.6"/><rect x="342.62" y="368.82" width="1" height="0.8" opacity="0.72"/><rect x="341.2" y="256.43" width="1" height="1.2" opacity="0.64"/><rect x="346.76" y="147.99" width="1" height="0.8" opacity="0.66"/><rect x="337.24" y="117.85" width="1.2" height="1.2" opacity="0.49"/><rect x="339.9" y="222.97" width="1.5" height="0.8" opacity="0.46"/><rect x="341.92" y="366.41" width="1.2" height="0.8" opacity="0.74"/><rect x="341.31" y="62.51" width="1.2" height="1.6" opacity="0.59"/><rect x="344.28" y="149.57" width="1" height="1.6" opacity="0.82"/><rect x="338.16" y="296.05" width="1.2" height="0.8" opacity="0.72"/><rect x="340.72" y="74.26" width="1.5" height="1.6" opacity="0.57"/><rect x="341.81" y="424.48" width="0.8" height="0.8" opacity="0.68"/><rect x="342.42" y="232.74" width="1.5" height="1.6" opacity="0.9"/><rect x="338.76" y="71.96" width="1.5" height="1.6" opacity="0.42"/><rect x="346.14" y="49.45" width="1" height="1" opacity="0.57"/><rect x="337.02" y="320.87" width="1.2" height="1.6" opacity="0.77"/><rect x="338.01" y="134.96" width="0.8" height="0.8" opacity="0.41"/><rect x="337.63" y="350.62" width="1.5" height="0.8" opacity="0.8"/><rect x="339.06" y="181.48" width="0.8" height="1.6" opacity="0.81"/><rect x="338.29" y="210.37" width="0.8" height="1" opacity="0.53"/><rect x="338.94" y="443.3" width="1" height="1.2" opacity="0.64"/><rect x="337.61" y="200.97" width="1.2" height="1.6" opacity="0.63"/><rect x="341.88" y="66.31" width="1.2" height="1" opacity="0.83"/><rect x="346.77" y="392.45" width="1.2" height="1.2" opacity="0.46"/><rect x="337.17" y="262.97" width="1.2" height="1.6" opacity="0.71"/><rect x="345.59" y="102.81" width="1.2" height="1" opacity="0.6"/><rect x="345.55" y="314.41" width="1.2" height="0.8" opacity="0.64"/><rect x="341.73" y="274.34" width="1.2" height="0.8" opacity="0.5"/><rect x="346.69" y="163.64" width="1" height="1.6" opacity="0.57"/><rect x="345.82" y="128.14" width="1" height="0.8" opacity="0.45"/><rect x="347.48" y="96" width="1" height="0.8" opacity="0.8"/><rect x="342.86" y="51.35" width="1" height="1.6" opacity="0.47"/><rect x="345.72" y="348.74" width="1" height="1" opacity="0.43"/><rect x="348.25" y="129.38" width="0.8" height="1.6" opacity="0.4"/><rect x="346.54" y="430.61" width="1.5" height="1" opacity="0.71"/><rect x="339.8" y="412.39" width="1.5" height="1" opacity="0.83"/><rect x="348.33" y="99.61" width="1" height="1.6" opacity="0.51"/><rect x="339.48" y="281.27" width="1.2" height="1" opacity="0.52"/><rect x="339.8" y="267.78" width="1" height="1" opacity="0.87"/><rect x="345.02" y="139.06" width="0.8" height="1.2" opacity="0.56"/><rect x="344.7" y="136.04" width="0.8" height="1" opacity="0.61"/><rect x="345.82" y="219.65" width="1.5" height="0.8" opacity="0.37"/><rect x="341" y="311.82" width="1" height="0.8" opacity="0.51"/><rect x="340.95" y="349.42" width="1.5" height="0.8" opacity="0.46"/><rect x="340.08" y="168.27" width="0.8" height="1" opacity="0.43"/><rect x="339.97" y="407.2" width="1" height="1.2" opacity="0.37"/><rect x="344.16" y="437.28" width="1.2" height="1" opacity="0.87"/><rect x="344.9" y="65.87" width="1.2" height="1.2" opacity="0.6"/><rect x="339.67" y="346.18" width="1" height="0.8" opacity="0.78"/><rect x="340.32" y="73.71" width="1.5" height="0.8" opacity="0.76"/><rect x="337.95" y="110.94" width="1.5" height="1.6" opacity="0.37"/><rect x="337.01" y="280.13" width="1.5" height="1" opacity="0.58"/><rect x="347.22" y="76.47" width="1" height="1.2" opacity="0.44"/><rect x="348.55" y="179.88" width="1.5" height="1.2" opacity="0.43"/><rect x="337.7" y="401.53" width="0.8" height="1" opacity="0.62"/><rect x="343.36" y="93.21" width="1.5" height="1" opacity="0.44"/><rect x="343.35" y="250.8" width="1.2" height="1" opacity="0.51"/><rect x="343.61" y="445.66" width="1" height="1" opacity="0.84"/><rect x="336.69" y="427.55" width="1.5" height="1" opacity="0.73"/><rect x="339.43" y="349.29" width="1" height="1.2" opacity="0.9"/><rect x="341.93" y="298.36" width="0.8" height="1.2" opacity="0.66"/><rect x="338.05" y="314.41" width="1" height="1" opacity="0.48"/><rect x="346.42" y="253.29" width="0.8" height="1" opacity="0.39"/><rect x="340.82" y="85.31" width="1" height="1" opacity="0.8"/><rect x="340.88" y="373.79" width="1.5" height="1" opacity="0.36"/><rect x="348.54" y="212.41" width="1.5" height="0.8" opacity="0.4"/><rect x="339.63" y="342.7" width="1" height="1" opacity="0.79"/><rect x="346.36" y="128.09" width="1" height="1.2" opacity="0.74"/><rect x="337.36" y="46.75" width="1.5" height="0.8" opacity="0.62"/><rect x="346.47" y="413.29" width="0.8" height="1" opacity="0.83"/><rect x="337.14" y="193.64" width="1.5" height="0.8" opacity="0.71"/><rect x="348.93" y="281.57" width="1.5" height="1.6" opacity="0.42"/><rect x="347.1" y="425.05" width="0.8" height="1.6" opacity="0.81"/><rect x="346.77" y="284.65" width="1.5" height="1.6" opacity="0.8"/><rect x="346.54" y="398.2" width="1.2" height="0.8" opacity="0.39"/><rect x="346.52" y="370.44" width="1" height="1" opacity="0.46"/><rect x="342.36" y="141.42" width="1.5" height="0.8" opacity="0.57"/><rect x="346.53" y="366.95" width="1.2" height="1.6" opacity="0.57"/><rect x="337.61" y="309.79" width="1.2" height="1.6" opacity="0.79"/><rect x="336.56" y="243.62" width="0.8" height="0.8" opacity="0.83"/><rect x="342.58" y="211.94" width="1.2" height="1.6" opacity="0.43"/><rect x="343.48" y="79.25" width="1.5" height="1.6" opacity="0.69"/><rect x="340.24" y="81.22" width="1.2" height="1" opacity="0.74"/><rect x="342.16" y="313.24" width="1" height="0.8" opacity="0.47"/><rect x="344.53" y="197.7" width="1" height="1.6" opacity="0.5"/><rect x="348.76" y="192.33" width="1" height="1.2" opacity="0.84"/><rect x="344.31" y="407.54" width="1.5" height="1.2" opacity="0.62"/><rect x="348.73" y="250.78" width="1" height="1" opacity="0.57"/><rect x="336.62" y="391.18" width="0.8" height="1" opacity="0.6"/><rect x="346.86" y="147.15" width="1.2" height="0.8" opacity="0.89"/><rect x="345.9" y="350.55" width="1.5" height="1" opacity="0.86"/><rect x="347.94" y="315.39" width="0.8" height="1.2" opacity="0.59"/><rect x="348.76" y="192.1" width="1.5" height="0.8" opacity="0.85"/><rect x="342.88" y="192.87" width="0.8" height="0.8" opacity="0.83"/><rect x="347.87" y="93.81" width="1.5" height="1.6" opacity="0.52"/><rect x="343.06" y="107.26" width="1.5" height="0.8" opacity="0.87"/><rect x="342.68" y="48.46" width="1.2" height="1" opacity="0.45"/><rect x="348.25" y="251.29" width="1.5" height="1" opacity="0.76"/><rect x="344.71" y="159.32" width="1" height="1.2" opacity="0.78"/><rect x="336.83" y="267.57" width="1.5" height="0.8" opacity="0.79"/><rect x="345.16" y="199.66" width="1.2" height="1.2" opacity="0.53"/><rect x="347.17" y="246.33" width="0.8" height="1.2" opacity="0.84"/><rect x="339.07" y="372.53" width="0.8" height="1" opacity="0.52"/><rect x="343.16" y="321.5" width="0.8" height="1.2" opacity="0.88"/><rect x="346.45" y="191.41" width="1" height="1.2" opacity="0.52"/><rect x="348.58" y="125.51" width="1.2" height="1.6" opacity="0.57"/><rect x="345.22" y="192.09" width="1.2" height="1.6" opacity="0.79"/><rect x="342.55" y="91.14" width="1.5" height="1.6" opacity="0.7"/><rect x="346.47" y="173.04" width="1" height="1.2" opacity="0.77"/><rect x="342.52" y="271.84" width="1.5" height="0.8" opacity="0.5"/><rect x="341.14" y="417.09" width="1.2" height="0.8" opacity="0.49"/><rect x="346.37" y="62.33" width="1.2" height="1.2" opacity="0.68"/><rect x="341.11" y="442.6" width="0.8" height="0.8" opacity="0.76"/><rect x="345.18" y="212.72" width="0.8" height="1.2" opacity="0.44"/><rect x="338.76" y="338.31" width="0.8" height="1.6" opacity="0.57"/><rect x="348.54" y="346.22" width="1.2" height="1.6" opacity="0.57"/><rect x="346.81" y="187.2" width="1" height="1" opacity="0.64"/><rect x="343.17" y="316.64" width="1.2" height="1" opacity="0.47"/><rect x="345.23" y="419.95" width="0.8" height="0.8" opacity="0.82"/><rect x="345.05" y="279.56" width="1.5" height="1" opacity="0.67"/><rect x="340" y="387.66" width="1" height="1" opacity="0.47"/><rect x="347.38" y="142.25" width="0.8" height="1.2" opacity="0.84"/><rect x="346.01" y="378.01" width="1.5" height="1.2" opacity="0.42"/><rect x="345.51" y="330.56" width="1.2" height="0.8" opacity="0.77"/><rect x="344.24" y="251.72" width="1" height="1" opacity="0.52"/><rect x="341.1" y="275.98" width="0.8" height="1.2" opacity="0.36"/><rect x="343.12" y="94.93" width="1.2" height="1" opacity="0.35"/><rect x="344.55" y="101.78" width="1.2" height="0.8" opacity="0.89"/><rect x="344.06" y="286.79" width="0.8" height="0.8" opacity="0.65"/><rect x="342.49" y="241.46" width="1.2" height="1.2" opacity="0.88"/><rect x="343.29" y="138.84" width="1" height="1.2" opacity="0.81"/><rect x="346.85" y="263.06" width="0.8" height="1" opacity="0.78"/><rect x="336.86" y="249.94" width="1.5" height="1.2" opacity="0.38"/><rect x="344.56" y="338.96" width="0.8" height="1.6" opacity="0.56"/><rect x="348.72" y="211.22" width="0.8" height="1.2" opacity="0.88"/><rect x="340.72" y="444.93" width="0.8" height="1.6" opacity="0.67"/><rect x="342.02" y="438.02" width="1.5" height="1" opacity="0.54"/><rect x="338.93" y="208.73" width="1.2" height="1" opacity="0.39"/><rect x="347.99" y="52.29" width="1" height="1" opacity="0.78"/><rect x="339.08" y="351.52" width="1.2" height="0.8" opacity="0.86"/><rect x="345.75" y="336.93" width="0.8" height="1.2" opacity="0.46"/><rect x="336.67" y="395.26" width="1.2" height="1.2" opacity="0.7"/><rect x="343.74" y="173.42" width="1.2" height="1.2" opacity="0.41"/><rect x="345.96" y="325.52" width="1.5" height="0.8" opacity="0.79"/><rect x="342.32" y="86.96" width="0.8" height="1" opacity="0.55"/><rect x="347.82" y="242.39" width="0.8" height="1.2" opacity="0.79"/><rect x="342.6" y="378.39" width="1" height="0.8" opacity="0.64"/><rect x="339.72" y="203.07" width="1.2" height="1.2" opacity="0.71"/><rect x="348.5" y="123.78" width="1.2" height="1.6" opacity="0.78"/><rect x="345.79" y="110.77" width="1.5" height="1" opacity="0.43"/><rect x="337.92" y="340.32" width="1.5" height="0.8" opacity="0.36"/><rect x="347.13" y="363.87" width="1.5" height="0.8" opacity="0.46"/><rect x="343.83" y="415.63" width="1.2" height="1.2" opacity="0.69"/><rect x="347.83" y="241.79" width="1" height="0.8" opacity="0.48"/><rect x="348.09" y="200.52" width="0.8" height="0.8" opacity="0.68"/><rect x="338.12" y="126.54" width="1.5" height="1.6" opacity="0.77"/><rect x="343.8" y="336.8" width="1.5" height="1" opacity="0.57"/><rect x="345.11" y="334.59" width="1" height="1.6" opacity="0.73"/><rect x="342.54" y="103.01" width="1.5" height="1.6" opacity="0.38"/><rect x="339.55" y="445.17" width="1" height="0.8" opacity="0.57"/><rect x="346.59" y="379.17" width="0.8" height="1" opacity="0.4"/><rect x="348.99" y="370.62" width="0.8" height="1.6" opacity="0.38"/><rect x="339.58" y="422.43" width="1" height="0.8" opacity="0.86"/><rect x="344.67" y="417.82" width="1.2" height="0.8" opacity="0.43"/><rect x="336.73" y="352.16" width="0.8" height="0.8" opacity="0.45"/><rect x="346.83" y="111.52" width="1.2" height="0.8" opacity="0.63"/><rect x="348.75" y="200.12" width="0.8" height="0.8" opacity="0.82"/><rect x="343.62" y="378.17" width="0.8" height="0.8" opacity="0.71"/><rect x="344.37" y="230.67" width="0.8" height="1" opacity="0.36"/><rect x="347.12" y="374.2" width="1.5" height="1" opacity="0.42"/><rect x="344.82" y="129.47" width="1.5" height="0.8" opacity="0.69"/><rect x="337.61" y="256.01" width="0.8" height="0.8" opacity="0.75"/><rect x="347.38" y="389.09" width="0.8" height="0.8" opacity="0.55"/><rect x="340.37" y="354.3" width="1" height="1.6" opacity="0.68"/><rect x="349.03" y="356.88" width="0.8" height="0.8" opacity="0.39"/><rect x="337.95" y="325.98" width="1" height="1.6" opacity="0.6"/><rect x="341.71" y="293" width="1" height="0.8" opacity="0.85"/><rect x="347.22" y="335.78" width="0.8" height="1" opacity="0.82"/><rect x="342.01" y="401.16" width="1" height="1.2" opacity="0.59"/><rect x="345.54" y="147.9" width="1.2" height="1.2" opacity="0.37"/><rect x="341.39" y="111.25" width="1" height="1.6" opacity="0.77"/><rect x="347.21" y="448.18" width="1.2" height="1.2" opacity="0.79"/><rect x="336.67" y="263.37" width="1.2" height="1" opacity="0.65"/><rect x="341.07" y="376.03" width="0.8" height="1" opacity="0.84"/><rect x="346.67" y="261.01" width="0.8" height="0.8" opacity="0.8"/><rect x="340.51" y="299.46" width="1.2" height="0.8" opacity="0.65"/><rect x="348.86" y="110.84" width="0.8" height="1" opacity="0.87"/><rect x="341.72" y="415.59" width="0.8" height="1" opacity="0.47"/><rect x="346.16" y="404.21" width="1.2" height="1.6" opacity="0.74"/><rect x="349.17" y="116.98" width="1.5" height="1" opacity="0.73"/><rect x="346.05" y="350.54" width="1" height="1.2" opacity="0.49"/><rect x="336.85" y="325.45" width="1" height="1.2" opacity="0.69"/><rect x="344.9" y="345.43" width="1" height="0.8" opacity="0.68"/><rect x="345.39" y="168.65" width="0.8" height="0.8" opacity="0.64"/><rect x="337.44" y="75.76" width="0.8" height="1.6" opacity="0.71"/><rect x="343.03" y="401.02" width="1.5" height="1" opacity="0.84"/><rect x="339.76" y="205.45" width="1" height="1.6" opacity="0.89"/><rect x="347.74" y="394.34" width="1.5" height="1.2" opacity="0.53"/><rect x="339.14" y="202.69" width="1" height="0.8" opacity="0.82"/><rect x="346.78" y="317.17" width="1.2" height="0.8" opacity="0.82"/><rect x="337.43" y="81.83" width="1.2" height="1.2" opacity="0.45"/><rect x="338.34" y="84.92" width="0.8" height="1.6" opacity="0.49"/><rect x="337.64" y="281.93" width="0.8" height="0.8" opacity="0.51"/><rect x="339.93" y="422.45" width="1.2" height="1.2" opacity="0.65"/><rect x="338.76" y="195.16" width="1.2" height="1.2" opacity="0.55"/><rect x="343.2" y="90.74" width="1" height="1" opacity="0.51"/><rect x="341.37" y="355.26" width="1" height="1" opacity="0.84"/><rect x="346.26" y="391.04" width="1" height="1.6" opacity="0.49"/><rect x="336.6" y="85.93" width="1.5" height="1.2" opacity="0.48"/><rect x="336.88" y="223.09" width="0.8" height="0.8" opacity="0.6"/><rect x="345.61" y="83.55" width="0.8" height="1.6" opacity="0.61"/><rect x="338.72" y="139.03" width="1.5" height="0.8" opacity="0.42"/><rect x="337.37" y="191.83" width="1.5" height="1" opacity="0.87"/><rect x="343.6" y="74.56" width="1" height="1.6" opacity="0.76"/><rect x="343.7" y="397.95" width="1.5" height="0.8" opacity="0.38"/><rect x="342.03" y="68.26" width="1" height="1.2" opacity="0.47"/><rect x="337.56" y="153.02" width="1.5" height="1" opacity="0.39"/><rect x="342.3" y="174.29" width="1" height="1.2" opacity="0.71"/><rect x="341.12" y="94.07" width="1.5" height="1.6" opacity="0.49"/><rect x="343.02" y="299.69" width="0.8" height="1.6" opacity="0.73"/><rect x="336.91" y="308.15" width="1.5" height="1" opacity="0.71"/><rect x="338.36" y="370.99" width="1.2" height="0.8" opacity="0.82"/><rect x="341.21" y="411.11" width="1" height="1" opacity="0.36"/><rect x="342.37" y="338.66" width="1.5" height="1" opacity="0.82"/><rect x="340.15" y="440.56" width="1" height="1.2" opacity="0.76"/><rect x="343.97" y="425.98" width="1.5" height="0.8" opacity="0.72"/><rect x="336.66" y="429.61" width="1" height="0.8" opacity="0.61"/><rect x="343.05" y="429.57" width="1.5" height="1" opacity="0.69"/><rect x="339.27" y="383.25" width="1" height="1.2" opacity="0.9"/><rect x="342.34" y="137.22" width="1.2" height="0.8" opacity="0.57"/><rect x="340.89" y="316.34" width="0.8" height="1.2" opacity="0.77"/><rect x="339.55" y="384.48" width="1" height="1.2" opacity="0.68"/><rect x="342.58" y="267.43" width="1.5" height="1" opacity="0.49"/><rect x="343.69" y="156.5" width="1.5" height="1" opacity="0.85"/><rect x="349.28" y="100.37" width="1.2" height="0.8" opacity="0.44"/><rect x="341.91" y="78.08" width="1.5" height="1.6" opacity="0.49"/><rect x="343.8" y="135.88" width="1" height="1.2" opacity="0.88"/><rect x="345.61" y="84" width="1.5" height="0.8" opacity="0.88"/><rect x="348.07" y="74.16" width="1" height="1" opacity="0.58"/><rect x="343.28" y="389.29" width="0.8" height="1.6" opacity="0.48"/><rect x="344.92" y="282.99" width="1.2" height="1" opacity="0.59"/><rect x="344.08" y="148.18" width="1.5" height="1" opacity="0.82"/><rect x="348.74" y="306.14" width="1.5" height="1.2" opacity="0.88"/><rect x="339.8" y="378.45" width="0.8" height="1.6" opacity="0.47"/><rect x="340.7" y="418.16" width="1.5" height="1.6" opacity="0.54"/><rect x="346.24" y="432.67" width="1" height="1.6" opacity="0.88"/><rect x="346.56" y="139.9" width="1.5" height="0.8" opacity="0.88"/><rect x="339.15" y="211.25" width="1" height="1" opacity="0.55"/><rect x="345.57" y="199.5" width="1.5" height="1.2" opacity="0.42"/><rect x="339.35" y="132.63" width="1.2" height="0.8" opacity="0.37"/><rect x="338.24" y="210.05" width="1.5" height="0.8" opacity="0.61"/><rect x="342.31" y="180.04" width="1.2" height="1.2" opacity="0.74"/><rect x="342.1" y="116.63" width="1.5" height="0.8" opacity="0.72"/><rect x="346.5" y="205.14" width="0.8" height="1.2" opacity="0.81"/><rect x="344.72" y="302.54" width="1" height="1.2" opacity="0.77"/><rect x="340.35" y="149.16" width="0.8" height="1.6" opacity="0.82"/><rect x="347.7" y="284.01" width="1" height="0.8" opacity="0.68"/><rect x="341.78" y="272.61" width="0.8" height="0.8" opacity="0.79"/><rect x="347.21" y="80.33" width="1" height="0.8" opacity="0.45"/><rect x="338.73" y="410.26" width="1" height="0.8" opacity="0.36"/><rect x="337.56" y="81.43" width="1" height="1" opacity="0.61"/><rect x="337.44" y="186.88" width="1.2" height="1.6" opacity="0.76"/><rect x="347.7" y="180.44" width="0.8" height="1.2" opacity="0.44"/><rect x="337.67" y="298.28" width="1.2" height="1" opacity="0.79"/><rect x="345.83" y="183.95" width="1.5" height="1" opacity="0.45"/><rect x="348.39" y="272.5" width="0.8" height="1" opacity="0.81"/><rect x="341.91" y="165.1" width="0.8" height="1" opacity="0.52"/><rect x="337.42" y="236.9" width="0.8" height="1" opacity="0.46"/><rect x="345.56" y="371.14" width="1" height="0.8" opacity="0.8"/><rect x="342.54" y="221.92" width="0.8" height="1" opacity="0.86"/><rect x="339.26" y="385.69" width="1.5" height="1" opacity="0.76"/><rect x="342.92" y="256.9" width="1.2" height="0.8" opacity="0.37"/><rect x="345.77" y="135.07" width="1.2" height="1" opacity="0.7"/><rect x="345.35" y="294.5" width="1" height="1" opacity="0.89"/><rect x="349.24" y="409.43" width="1" height="1" opacity="0.38"/><rect x="342.43" y="182.82" width="1.2" height="1.6" opacity="0.52"/><rect x="345.73" y="68.14" width="1.2" height="0.8" opacity="0.51"/><rect x="340.66" y="141.3" width="1" height="1" opacity="0.6"/><rect x="339.03" y="94.02" width="1.2" height="1.6" opacity="0.64"/><rect x="346.43" y="88.61" width="0.8" height="1.6" opacity="0.59"/><rect x="337.35" y="370.95" width="1" height="1.6" opacity="0.53"/><rect x="342.6" y="334.02" width="1.2" height="1.6" opacity="0.78"/><rect x="345.78" y="173.01" width="0.8" height="0.8" opacity="0.77"/><rect x="337.62" y="419.1" width="1" height="0.8" opacity="0.82"/><rect x="348.58" y="271.35" width="0.8" height="1.6" opacity="0.73"/><rect x="336.95" y="311.87" width="1.2" height="1.6" opacity="0.64"/><rect x="338.35" y="328" width="0.8" height="0.8" opacity="0.51"/><rect x="346.33" y="100.28" width="0.8" height="0.8" opacity="0.52"/><rect x="346.98" y="290.02" width="1.5" height="1" opacity="0.48"/><rect x="341.45" y="372.32" width="1.2" height="1.2" opacity="0.42"/><rect x="339.61" y="439.06" width="0.8" height="0.8" opacity="0.49"/><rect x="345.98" y="406.67" width="1.5" height="1.6" opacity="0.47"/><rect x="338.87" y="373.92" width="1.5" height="1.6" opacity="0.74"/><rect x="345.9" y="98.09" width="1" height="1.6" opacity="0.41"/><rect x="346.91" y="182.8" width="1" height="0.8" opacity="0.49"/><rect x="342.51" y="446.68" width="1" height="1.2" opacity="0.52"/><rect x="345.84" y="389.22" width="1" height="1.6" opacity="0.38"/><rect x="336.5" y="139.42" width="1.2" height="0.8" opacity="0.78"/><rect x="339.76" y="61.54" width="0.8" height="1.2" opacity="0.48"/><rect x="340.57" y="402.38" width="1.2" height="1.2" opacity="0.56"/><rect x="341.02" y="198.75" width="0.8" height="1" opacity="0.36"/><rect x="345.15" y="351.82" width="1" height="0.8" opacity="0.89"/><rect x="345.82" y="351.23" width="1.2" height="1.2" opacity="0.63"/><rect x="340.67" y="222.54" width="1.2" height="1" opacity="0.48"/><rect x="345.63" y="317.24" width="0.8" height="1.2" opacity="0.84"/><rect x="338.71" y="175.05" width="1" height="0.8" opacity="0.79"/><rect x="347.29" y="442.07" width="1.2" height="1.6" opacity="0.78"/><rect x="346.51" y="397.8" width="1" height="1.2" opacity="0.55"/><rect x="337.32" y="93.52" width="0.8" height="0.8" opacity="0.47"/><rect x="337.4" y="73" width="0.8" height="1" opacity="0.82"/><rect x="344.69" y="171.58" width="1.5" height="1.6" opacity="0.52"/><rect x="344.59" y="407.88" width="1.5" height="1.2" opacity="0.84"/><rect x="345.89" y="171.74" width="1.2" height="0.8" opacity="0.68"/><rect x="349.27" y="408.39" width="0.8" height="1.6" opacity="0.6"/><rect x="336.65" y="432.59" width="1" height="1" opacity="0.46"/><rect x="343.45" y="421.19" width="0.8" height="0.8" opacity="0.6"/><rect x="343.79" y="55.17" width="1" height="1.6" opacity="0.9"/><rect x="338.85" y="163.42" width="1.2" height="0.8" opacity="0.47"/><rect x="346.03" y="370.22" width="1" height="1.2" opacity="0.84"/><rect x="349.2" y="221.11" width="1.5" height="0.8" opacity="0.86"/><rect x="339.08" y="167.78" width="1.2" height="1" opacity="0.62"/><rect x="346.13" y="49.99" width="1" height="1.6" opacity="0.9"/><rect x="343.68" y="367.58" width="1" height="0.8" opacity="0.85"/><rect x="343.56" y="353.13" width="1.2" height="0.8" opacity="0.86"/><rect x="339.15" y="55.08" width="1" height="1.6" opacity="0.86"/><rect x="343.67" y="103.78" width="1.5" height="0.8" opacity="0.58"/><rect x="344.21" y="150.53" width="1.2" height="1" opacity="0.58"/><rect x="343.07" y="235.21" width="0.8" height="0.8" opacity="0.79"/><rect x="348.06" y="112.58" width="1" height="1.2" opacity="0.48"/><rect x="347.02" y="139.6" width="1" height="1" opacity="0.89"/><rect x="345.74" y="90.06" width="1.5" height="1" opacity="0.5"/><rect x="347.23" y="420.17" width="0.8" height="1.6" opacity="0.87"/><rect x="342.17" y="80.56" width="0.8" height="1.6" opacity="0.43"/><rect x="342.39" y="304.21" width="1.2" height="1.6" opacity="0.77"/><rect x="339.64" y="126.12" width="1" height="1.6" opacity="0.55"/><rect x="342.08" y="171.13" width="1" height="1.6" opacity="0.4"/><rect x="338.97" y="173.46" width="1.2" height="1" opacity="0.58"/><rect x="347.25" y="356.85" width="1.5" height="1.6" opacity="0.87"/><rect x="342.53" y="125.75" width="1" height="1" opacity="0.48"/><rect x="341" y="200.86" width="0.8" height="1.6" opacity="0.41"/><rect x="345.9" y="181.47" width="1.5" height="1" opacity="0.61"/><rect x="347.18" y="267.45" width="0.8" height="1.6" opacity="0.54"/><rect x="344.56" y="418.2" width="1.5" height="1.6" opacity="0.69"/><rect x="338.5" y="309.76" width="0.8" height="1" opacity="0.69"/><rect x="345.18" y="207.07" width="1.2" height="1" opacity="0.54"/><rect x="348.59" y="268.05" width="1.5" height="1" opacity="0.51"/><rect x="338.24" y="411.8" width="0.8" height="1.2" opacity="0.79"/><rect x="342.14" y="156.82" width="0.8" height="1.2" opacity="0.65"/><rect x="346.63" y="177.23" width="1.5" height="0.8" opacity="0.53"/><rect x="341.46" y="292.24" width="1.2" height="0.8" opacity="0.55"/><rect x="341.46" y="192.52" width="0.8" height="1.2" opacity="0.84"/><rect x="340.19" y="246.04" width="1.5" height="0.8" opacity="0.39"/><rect x="339.18" y="343.9" width="1" height="1" opacity="0.52"/><rect x="339.31" y="222.39" width="0.8" height="0.8" opacity="0.87"/><rect x="343.55" y="418.9" width="0.8" height="1" opacity="0.59"/><rect x="338.97" y="348.49" width="1.5" height="1.6" opacity="0.4"/><rect x="347.67" y="350.71" width="1" height="1.2" opacity="0.37"/><rect x="337.22" y="95.9" width="0.8" height="1.2" opacity="0.74"/><rect x="344.57" y="91.08" width="1" height="0.8" opacity="0.45"/><rect x="344.3" y="317.89" width="1" height="1.2" opacity="0.42"/><rect x="347.47" y="177.31" width="1.5" height="1.2" opacity="0.6"/><rect x="342.68" y="55.51" width="1" height="1" opacity="0.45"/><rect x="338.45" y="187.73" width="0.8" height="1.6" opacity="0.64"/><rect x="345.21" y="59.19" width="1.5" height="0.8" opacity="0.6"/><rect x="347.78" y="288.95" width="1.2" height="1.6" opacity="0.63"/><rect x="338.39" y="65.08" width="1" height="1.6" opacity="0.45"/><rect x="341.41" y="325.25" width="0.8" height="0.8" opacity="0.81"/><rect x="341.13" y="331.28" width="1" height="1.6" opacity="0.75"/><rect x="341.73" y="434.28" width="1" height="1.2" opacity="0.84"/><rect x="338.94" y="447.87" width="1" height="0.8" opacity="0.89"/><rect x="345.31" y="174.47" width="1.2" height="1.2" opacity="0.44"/><rect x="347.48" y="243.49" width="1.2" height="0.8" opacity="0.62"/><rect x="347.11" y="64.4" width="1.5" height="0.8" opacity="0.67"/><rect x="348.11" y="283.08" width="1.5" height="0.8" opacity="0.4"/><rect x="346.45" y="87.26" width="1.2" height="0.8" opacity="0.68"/><rect x="342.07" y="402.96" width="1.2" height="0.8" opacity="0.75"/><rect x="344.8" y="85.11" width="1.5" height="1.2" opacity="0.47"/><rect x="344.88" y="158.12" width="1.2" height="1" opacity="0.86"/><rect x="348.57" y="449.65" width="1.5" height="1.2" opacity="0.6"/><rect x="347.55" y="208.07" width="1.5" height="0.8" opacity="0.38"/><rect x="347.2" y="374.1" width="1.2" height="0.8" opacity="0.68"/><rect x="347.57" y="343.99" width="1" height="1.2" opacity="0.7"/><rect x="341.32" y="146.46" width="0.8" height="1.6" opacity="0.61"/><rect x="337.61" y="390.33" width="0.8" height="1" opacity="0.61"/><rect x="342.5" y="336.6" width="1.2" height="1.2" opacity="0.81"/><rect x="344.29" y="433" width="0.8" height="1" opacity="0.81"/><rect x="339.83" y="112.1" width="1" height="1.6" opacity="0.82"/><rect x="339.37" y="150.7" width="0.8" height="1" opacity="0.44"/><rect x="349.26" y="167.86" width="0.8" height="1.6" opacity="0.64"/><rect x="347.44" y="225.19" width="0.8" height="1.6" opacity="0.85"/><rect x="346.81" y="321.74" width="1.5" height="1" opacity="0.71"/><rect x="342.66" y="260.21" width="1" height="1.2" opacity="0.44"/><rect x="345.25" y="269.96" width="1.5" height="1" opacity="0.85"/><rect x="348.01" y="235.73" width="1.2" height="1.2" opacity="0.4"/><rect x="342.87" y="440.02" width="1.2" height="1" opacity="0.54"/><rect x="337.72" y="199.34" width="0.8" height="1" opacity="0.62"/><rect x="340.12" y="179.32" width="1" height="1.2" opacity="0.77"/><rect x="340.57" y="231.17" width="1.2" height="1.6" opacity="0.7"/><rect x="343.71" y="429.54" width="1.2" height="1.6" opacity="0.87"/><rect x="344.62" y="265.56" width="1" height="1.2" opacity="0.45"/><rect x="338.94" y="164.27" width="1" height="0.8" opacity="0.58"/><rect x="339.18" y="74.31" width="0.8" height="1" opacity="0.72"/><rect x="345.26" y="420.81" width="1" height="0.8" opacity="0.5"/><rect x="348.98" y="81.05" width="1.2" height="1.2" opacity="0.84"/><rect x="345.37" y="254.19" width="1.2" height="1" opacity="0.36"/><rect x="339.09" y="118.17" width="1" height="0.8" opacity="0.47"/><rect x="338.06" y="282.66" width="1.2" height="1.6" opacity="0.57"/><rect x="345.43" y="72.84" width="1.5" height="0.8" opacity="0.81"/><rect x="347.92" y="253.88" width="1.5" height="1.2" opacity="0.83"/><rect x="336.78" y="56.63" width="0.8" height="1.6" opacity="0.69"/><rect x="344.86" y="110.84" width="1.2" height="1" opacity="0.55"/><rect x="348.02" y="148.88" width="1" height="1" opacity="0.44"/><rect x="338.41" y="283.9" width="0.8" height="1" opacity="0.52"/><rect x="343.76" y="84.5" width="1.5" height="1.6" opacity="0.6"/><rect x="346.1" y="340.15" width="1" height="1.6" opacity="0.43"/><rect x="348.35" y="47.93" width="1.2" height="1" opacity="0.78"/><rect x="347.19" y="284.08" width="1.5" height="1.2" opacity="0.61"/><rect x="337.03" y="440.59" width="0.8" height="1.6" opacity="0.89"/><rect x="339.56" y="60.83" width="1" height="1" opacity="0.39"/><rect x="337.55" y="179.88" width="0.8" height="1.2" opacity="0.71"/><rect x="341.92" y="170.52" width="1.5" height="1" opacity="0.73"/><rect x="338.7" y="220.5" width="0.8" height="1.6" opacity="0.86"/><rect x="344.01" y="247.14" width="1" height="0.8" opacity="0.51"/><rect x="337.01" y="64.94" width="1" height="1.6" opacity="0.44"/><rect x="345.07" y="221.04" width="1.5" height="0.8" opacity="0.48"/><rect x="342.48" y="329.69" width="1.5" height="0.8" opacity="0.46"/><rect x="337.62" y="323.94" width="1.2" height="1.2" opacity="0.49"/><rect x="344.97" y="179.29" width="0.8" height="1.6" opacity="0.58"/><rect x="347.31" y="73.58" width="0.8" height="0.8" opacity="0.38"/><rect x="338.96" y="152.14" width="0.8" height="1.6" opacity="0.63"/><rect x="342.75" y="124.16" width="1.5" height="1.6" opacity="0.51"/><rect x="348.45" y="375.4" width="1.5" height="1" opacity="0.43"/><rect x="323.85" y="440.46" width="0.8" height="1" opacity="0.67"/><rect x="348.13" y="439.52" width="0.8" height="0.8" opacity="0.79"/><rect x="311.83" y="441.54" width="1.2" height="1.2" opacity="0.44"/><rect x="340.91" y="443.68" width="1.2" height="1" opacity="0.89"/><rect x="321.59" y="439.04" width="0.8" height="1.6" opacity="0.83"/><rect x="331.39" y="440.79" width="1.2" height="0.8" opacity="0.41"/><rect x="318.76" y="446.72" width="0.8" height="1" opacity="0.37"/><rect x="317.43" y="449.06" width="1.2" height="1.6" opacity="0.88"/><rect x="331.75" y="449.9" width="1" height="1.2" opacity="0.64"/><rect x="323.81" y="442.88" width="1.2" height="1.2" opacity="0.63"/><rect x="328.99" y="441.56" width="1.2" height="1" opacity="0.63"/><rect x="320.65" y="446.64" width="1" height="0.8" opacity="0.64"/><rect x="313.6" y="447.86" width="1.5" height="1.2" opacity="0.63"/><rect x="312.27" y="449.64" width="1.5" height="1.2" opacity="0.51"/><rect x="340.92" y="439.37" width="1.2" height="1.6" opacity="0.53"/><rect x="333.61" y="447.39" width="1.2" height="1.2" opacity="0.6"/><rect x="304.25" y="443.14" width="1" height="1" opacity="0.89"/><rect x="321.31" y="447.45" width="1.2" height="1.2" opacity="0.73"/><rect x="313.45" y="439.7" width="1.2" height="1.6" opacity="0.37"/><rect x="347.43" y="445.03" width="1.2" height="1" opacity="0.54"/><rect x="323.28" y="447.28" width="1" height="1.6" opacity="0.41"/><rect x="309.71" y="449.31" width="0.8" height="1" opacity="0.84"/><rect x="341.85" y="448.98" width="1.5" height="1.2" opacity="0.58"/><rect x="315.48" y="450.2" width="1" height="1" opacity="0.54"/><rect x="302.99" y="446.76" width="1" height="1.2" opacity="0.37"/><rect x="308.53" y="439.62" width="1.5" height="1" opacity="0.43"/><rect x="338.66" y="444.86" width="0.8" height="1.2" opacity="0.59"/><rect x="319.6" y="445.85" width="1.2" height="0.8" opacity="0.57"/><rect x="309.16" y="447.99" width="1.2" height="0.8" opacity="0.77"/><rect x="316.41" y="446.82" width="1" height="1" opacity="0.36"/><rect x="333.25" y="446.03" width="1.2" height="0.8" opacity="0.46"/><rect x="342.17" y="449.46" width="1" height="1.6" opacity="0.67"/><rect x="328.33" y="442.7" width="0.8" height="1.2" opacity="0.63"/><rect x="341.92" y="440.04" width="1.5" height="0.8" opacity="0.48"/><rect x="321.72" y="450.42" width="1.2" height="0.8" opacity="0.85"/><rect x="305.72" y="450.34" width="1" height="1.6" opacity="0.48"/><rect x="328.95" y="443.34" width="0.8" height="1.2" opacity="0.5"/><rect x="338.27" y="444.51" width="0.8" height="0.8" opacity="0.71"/><rect x="322.77" y="445.89" width="1" height="1.6" opacity="0.65"/><rect x="319.09" y="448.2" width="0.8" height="1.2" opacity="0.77"/><rect x="336.87" y="449.8" width="0.8" height="1.2" opacity="0.6"/><rect x="310.48" y="439.02" width="0.8" height="0.8" opacity="0.45"/><rect x="322.46" y="449.57" width="1.2" height="1.2" opacity="0.89"/><rect x="308.34" y="444.87" width="1.5" height="0.8" opacity="0.55"/><rect x="342.46" y="441.41" width="1.5" height="1.2" opacity="0.82"/><rect x="329.68" y="445.43" width="1.2" height="1.2" opacity="0.77"/><rect x="330.47" y="447.24" width="0.8" height="1.2" opacity="0.71"/><rect x="326.23" y="442.77" width="1.2" height="0.8" opacity="0.54"/><rect x="320.58" y="450" width="1.2" height="1" opacity="0.57"/><rect x="307.99" y="446.62" width="1.5" height="1.2" opacity="0.57"/><rect x="311.47" y="448.08" width="1.5" height="1" opacity="0.81"/><rect x="318.48" y="447.44" width="0.8" height="1.6" opacity="0.47"/><rect x="347.36" y="446.85" width="0.8" height="1.6" opacity="0.65"/><rect x="339.48" y="445.23" width="0.8" height="1" opacity="0.73"/><rect x="312.75" y="446.41" width="1" height="1" opacity="0.71"/><rect x="342.87" y="442.34" width="1" height="1.6" opacity="0.75"/><rect x="305.49" y="442.15" width="1.2" height="1" opacity="0.65"/><rect x="330.4" y="447.97" width="1" height="1.6" opacity="0.76"/><rect x="315.76" y="440.45" width="1.2" height="1.6" opacity="0.6"/><rect x="347.81" y="448.45" width="0.8" height="0.8" opacity="0.69"/><rect x="347.92" y="447.37" width="1.2" height="0.8" opacity="0.45"/><rect x="340.81" y="444.99" width="0.8" height="1" opacity="0.59"/><rect x="340.93" y="446.92" width="1" height="1" opacity="0.46"/><rect x="344.3" y="442.9" width="0.8" height="1" opacity="0.54"/><rect x="303.26" y="439.83" width="0.8" height="0.8" opacity="0.44"/><rect x="314.42" y="442.21" width="0.8" height="1" opacity="0.89"/><rect x="321.7" y="448.15" width="1.2" height="0.8" opacity="0.8"/><rect x="336.1" y="441.62" width="0.8" height="1.6" opacity="0.69"/><rect x="342.5" y="440.65" width="1.5" height="1.6" opacity="0.78"/><rect x="322.48" y="441.26" width="1" height="1.2" opacity="0.5"/><rect x="347.01" y="444.87" width="1" height="1.2" opacity="0.57"/><rect x="311.05" y="441.5" width="1.2" height="1.6" opacity="0.63"/><rect x="324.71" y="439.31" width="1.2" height="1.6" opacity="0.47"/><rect x="317.13" y="447.42" width="1.5" height="1" opacity="0.64"/><rect x="307.6" y="449.56" width="1.5" height="1" opacity="0.78"/><rect x="309.75" y="447.31" width="1.2" height="0.8" opacity="0.5"/><rect x="317.19" y="440.39" width="1.2" height="1.6" opacity="0.68"/><rect x="341.5" y="442.63" width="0.8" height="1.2" opacity="0.49"/><rect x="340.95" y="445.35" width="1" height="1" opacity="0.51"/><rect x="342.53" y="448.04" width="1.5" height="1.6" opacity="0.59"/><rect x="333.2" y="449.96" width="1" height="0.8" opacity="0.44"/><rect x="308.49" y="449.31" width="1.2" height="1" opacity="0.7"/><rect x="321.4" y="442.19" width="0.8" height="1" opacity="0.75"/><rect x="341.45" y="440.85" width="1" height="1.6" opacity="0.71"/><rect x="323.97" y="440.14" width="1" height="1.6" opacity="0.37"/><rect x="337.84" y="445.55" width="1.5" height="1" opacity="0.82"/><rect x="348.61" y="446.25" width="1" height="1" opacity="0.71"/><rect x="318.32" y="444.52" width="0.8" height="1" opacity="0.73"/><rect x="307.56" y="445.33" width="0.8" height="0.8" opacity="0.81"/><rect x="342.91" y="439.58" width="1" height="1" opacity="0.4"/><rect x="312.46" y="439.99" width="1.5" height="1" opacity="0.49"/><rect x="314.8" y="444.31" width="1.2" height="1" opacity="0.78"/><rect x="335.63" y="440.31" width="1" height="0.8" opacity="0.41"/><rect x="336.96" y="444.2" width="1.5" height="0.8" opacity="0.9"/><rect x="310.3" y="439.42" width="1.5" height="1.6" opacity="0.71"/><rect x="326.3" y="441.57" width="1.5" height="0.8" opacity="0.69"/><rect x="339.84" y="447.6" width="1.5" height="1.6" opacity="0.5"/><rect x="340.82" y="449.42" width="1.5" height="1" opacity="0.71"/><rect x="327.59" y="444.31" width="1" height="0.8" opacity="0.39"/><rect x="318.19" y="449.13" width="0.8" height="0.8" opacity="0.49"/><rect x="324.07" y="440.81" width="1" height="1.6" opacity="0.8"/><rect x="343.12" y="443.99" width="1" height="1" opacity="0.7"/><rect x="332.38" y="446.56" width="0.8" height="1.6" opacity="0.59"/><rect x="316.02" y="445.87" width="1.2" height="0.8" opacity="0.42"/><rect x="333.05" y="442.3" width="1.2" height="1.2" opacity="0.79"/><rect x="333.94" y="440.87" width="0.8" height="0.8" opacity="0.9"/><rect x="314.74" y="447.96" width="1.2" height="1" opacity="0.69"/><rect x="331.39" y="447.51" width="0.8" height="0.8" opacity="0.64"/><rect x="314.8" y="450.12" width="1.5" height="0.8" opacity="0.59"/><rect x="311.24" y="450.14" width="1.2" height="1.6" opacity="0.71"/><rect x="341.05" y="443.52" width="1.2" height="0.8" opacity="0.67"/><rect x="332.13" y="442.02" width="1" height="1" opacity="0.59"/><rect x="337.61" y="442.18" width="1" height="1" opacity="0.58"/><rect x="346.27" y="449.32" width="1" height="0.8" opacity="0.66"/><rect x="320.52" y="439.39" width="1.5" height="1.2" opacity="0.85"/><rect x="321.68" y="447.77" width="0.8" height="0.8" opacity="0.57"/><rect x="324.95" y="448.41" width="1.5" height="1.2" opacity="0.42"/><rect x="323.34" y="439.18" width="1" height="1" opacity="0.7"/><rect x="340.18" y="445.36" width="0.8" height="1" opacity="0.51"/><rect x="347.77" y="444.07" width="1" height="1.2" opacity="0.81"/><rect x="304.81" y="449.86" width="1.5" height="1.2" opacity="0.68"/><rect x="342.56" y="440.16" width="0.8" height="1" opacity="0.67"/><rect x="335.55" y="442.19" width="1.5" height="1.2" opacity="0.45"/><rect x="321.55" y="442.24" width="1.2" height="1.2" opacity="0.65"/><rect x="331.48" y="444.86" width="0.8" height="1.6" opacity="0.54"/><rect x="318.18" y="442.64" width="1.2" height="1.2" opacity="0.56"/><rect x="320.32" y="449.26" width="1.2" height="1" opacity="0.89"/><rect x="346.5" y="441.96" width="1" height="1" opacity="0.9"/><rect x="331.93" y="448.31" width="0.8" height="0.8" opacity="0.49"/><rect x="334.68" y="443.14" width="1" height="1.6" opacity="0.6"/><rect x="335.18" y="440.1" width="0.8" height="1" opacity="0.61"/><rect x="332.02" y="446.9" width="0.8" height="1" opacity="0.88"/><rect x="319.33" y="446.88" width="1" height="1.2" opacity="0.72"/><rect x="327.69" y="450.23" width="1.2" height="1.6" opacity="0.71"/><rect x="319.71" y="443.55" width="1.5" height="1" opacity="0.88"/><rect x="338.33" y="450.41" width="1.5" height="0.8" opacity="0.81"/><rect x="311.86" y="447.54" width="1" height="1.2" opacity="0.83"/><rect x="313.2" y="448.06" width="1.5" height="1.2" opacity="0.52"/><rect x="318.16" y="448.19" width="1" height="1" opacity="0.44"/><rect x="307.67" y="445.53" width="1" height="1.6" opacity="0.54"/><rect x="305.05" y="440.78" width="1" height="1.2" opacity="0.88"/><rect x="314.23" y="439.94" width="1" height="1.6" opacity="0.86"/><rect x="346.79" y="441.53" width="1.5" height="0.8" opacity="0.59"/><rect x="331.12" y="448.04" width="0.8" height="1" opacity="0.57"/><rect x="311.86" y="445.83" width="1.5" height="1.6" opacity="0.67"/><rect x="324.85" y="441.83" width="1.2" height="1" opacity="0.88"/><rect x="318.35" y="450.38" width="0.8" height="0.8" opacity="0.7"/><rect x="328.92" y="449.17" width="1.5" height="1" opacity="0.8"/><rect x="307.61" y="445.21" width="1.2" height="1.2" opacity="0.57"/><rect x="309.43" y="447.15" width="1.2" height="1.6" opacity="0.86"/><rect x="340.05" y="445.52" width="1.2" height="0.8" opacity="0.86"/><rect x="318.3" y="440.17" width="1.2" height="1.2" opacity="0.74"/><rect x="345.91" y="446.43" width="1.2" height="1.6" opacity="0.78"/><rect x="321.96" y="444.31" width="1.2" height="0.8" opacity="0.73"/><rect x="308.64" y="440.3" width="1" height="1" opacity="0.42"/><rect x="324.31" y="442.84" width="1.2" height="1.6" opacity="0.62"/><rect x="340.11" y="439.67" width="1.5" height="0.8" opacity="0.39"/><rect x="336.64" y="444.8" width="0.8" height="1.6" opacity="0.48"/><rect x="306.82" y="439.58" width="1.5" height="1" opacity="0.54"/><rect x="331.08" y="443.78" width="0.8" height="0.8" opacity="0.53"/><rect x="329.92" y="450.46" width="1" height="1" opacity="0.53"/><rect x="300.59" y="440.08" width="0.8" height="1.6" opacity="0.82"/><rect x="324.15" y="444.67" width="1.2" height="0.8" opacity="0.67"/><rect x="328.61" y="439.14" width="1.5" height="1.2" opacity="0.58"/><rect x="347.27" y="444.75" width="1.5" height="0.8" opacity="0.62"/><rect x="319.94" y="440.18" width="1.5" height="0.8" opacity="0.41"/><rect x="329.54" y="449.02" width="1.2" height="0.8" opacity="0.68"/><rect x="320.77" y="445.86" width="0.8" height="1.6" opacity="0.84"/><rect x="312.2" y="445.64" width="1.5" height="0.8" opacity="0.51"/><rect x="337.53" y="446.09" width="1.2" height="1.2" opacity="0.65"/><rect x="345.77" y="445.52" width="0.8" height="1.6" opacity="0.6"/><rect x="327.23" y="447.36" width="1" height="1.6" opacity="0.52"/><rect x="344.49" y="439.52" width="1.2" height="0.8" opacity="0.43"/><rect x="334.99" y="447.06" width="1" height="0.8" opacity="0.85"/><rect x="308.12" y="442.02" width="1.5" height="1" opacity="0.76"/><rect x="335.4" y="450.26" width="1.2" height="1" opacity="0.87"/><rect x="338.41" y="449.95" width="1" height="1.6" opacity="0.63"/><rect x="319.01" y="442.98" width="1.5" height="1" opacity="0.81"/><rect x="347.43" y="442.32" width="1.2" height="0.8" opacity="0.64"/><rect x="339.25" y="439.6" width="0.8" height="1" opacity="0.81"/><rect x="333.6" y="447.59" width="1.2" height="1.2" opacity="0.39"/><rect x="318.72" y="449.7" width="0.8" height="0.8" opacity="0.82"/><rect x="322.66" y="447.64" width="1.5" height="0.8" opacity="0.47"/><rect x="346.32" y="448.32" width="1" height="0.8" opacity="0.38"/><rect x="345" y="441.97" width="1" height="1.6" opacity="0.7"/><rect x="341.04" y="450.33" width="1.2" height="1" opacity="0.86"/><rect x="315.46" y="446.86" width="1" height="1.6" opacity="0.5"/><rect x="312.41" y="445.24" width="1" height="1.2" opacity="0.84"/><rect x="311.94" y="447.02" width="0.8" height="1" opacity="0.78"/><rect x="337.78" y="442.52" width="0.8" height="1.2" opacity="0.86"/><rect x="333.44" y="448.27" width="1" height="1.6" opacity="0.41"/><rect x="317.21" y="449.12" width="1" height="1" opacity="0.39"/><rect x="337.12" y="440.05" width="1.5" height="0.8" opacity="0.42"/><rect x="322.37" y="439.61" width="1.5" height="1.6" opacity="0.41"/><rect x="319.57" y="441.31" width="1.5" height="1.2" opacity="0.78"/><rect x="326.21" y="447.04" width="1" height="1.6" opacity="0.39"/><rect x="320.64" y="442.36" width="0.8" height="1" opacity="0.59"/><rect x="321.91" y="441.16" width="1.5" height="1.2" opacity="0.56"/><rect x="345.44" y="449.8" width="1.5" height="0.8" opacity="0.66"/><rect x="342.52" y="441.95" width="1.2" height="1.6" opacity="0.41"/><rect x="324.75" y="447.84" width="1" height="1.6" opacity="0.45"/><rect x="341.21" y="450.09" width="1.2" height="1.6" opacity="0.7"/><rect x="327.46" y="447.32" width="0.8" height="1.6" opacity="0.71"/><rect x="315.17" y="444.92" width="1.2" height="1.2" opacity="0.6"/><rect x="323.08" y="449.49" width="1.5" height="1" opacity="0.45"/><rect x="312.52" y="444.75" width="0.8" height="1.6" opacity="0.74"/><rect x="339.35" y="442.16" width="1.5" height="1.2" opacity="0.83"/><rect x="343.09" y="443.91" width="0.8" height="1.6" opacity="0.9"/><rect x="335.91" y="447.03" width="0.8" height="0.8" opacity="0.7"/><rect x="348.92" y="442.57" width="1" height="1.6" opacity="0.55"/><rect x="332.64" y="446.89" width="1.5" height="1.6" opacity="0.55"/><rect x="305.3" y="439.79" width="0.8" height="1.6" opacity="0.77"/><rect x="346.15" y="446.6" width="1.5" height="1" opacity="0.48"/><rect x="330.9" y="444.83" width="1.5" height="1.2" opacity="0.49"/><rect x="315.55" y="444.68" width="1.5" height="0.8" opacity="0.89"/><rect x="327.76" y="441.38" width="0.8" height="1" opacity="0.38"/><rect x="314.69" y="439.9" width="1" height="1" opacity="0.62"/><rect x="314.73" y="449.35" width="1.5" height="0.8" opacity="0.37"/><rect x="303.26" y="446.68" width="0.8" height="1.6" opacity="0.43"/><rect x="326.01" y="447.59" width="1.2" height="0.8" opacity="0.43"/><rect x="316.01" y="443.92" width="0.8" height="0.8" opacity="0.39"/><rect x="316.02" y="448.9" width="1.5" height="1.2" opacity="0.55"/><rect x="348.54" y="442.07" width="1.5" height="1" opacity="0.44"/><rect x="337.6" y="449.88" width="1.2" height="1" opacity="0.68"/><rect x="332.24" y="443.52" width="0.8" height="1" opacity="0.52"/><rect x="317.88" y="442.14" width="1" height="0.8" opacity="0.66"/><rect x="318.92" y="446.12" width="1.2" height="0.8" opacity="0.36"/><rect x="334.05" y="443.96" width="1.2" height="1.2" opacity="0.62"/><rect x="328.23" y="441.53" width="1" height="1.2" opacity="0.66"/><rect x="323.55" y="443.1" width="1.5" height="0.8" opacity="0.89"/><rect x="319.14" y="447.85" width="1.2" height="1.6" opacity="0.46"/><rect x="338.65" y="445.33" width="1" height="1.6" opacity="0.89"/><rect x="323.15" y="449.22" width="1.2" height="1.6" opacity="0.78"/><rect x="334.27" y="442.36" width="1" height="1.6" opacity="0.79"/><rect x="330.77" y="448.73" width="1.2" height="1.6" opacity="0.68"/><rect x="335.93" y="441.27" width="1.2" height="1.6" opacity="0.54"/><rect x="304.73" y="443.01" width="1" height="1" opacity="0.45"/><rect x="336.07" y="440.34" width="1" height="0.8" opacity="0.52"/><rect x="337.47" y="443.76" width="1.5" height="1.2" opacity="0.77"/><rect x="333.46" y="449.59" width="1.2" height="1.2" opacity="0.71"/><rect x="347.88" y="447.38" width="1" height="1.2" opacity="0.48"/><rect x="338.43" y="448.17" width="1.2" height="1.2" opacity="0.36"/><rect x="341.2" y="442.55" width="0.8" height="1.2" opacity="0.43"/><rect x="318.01" y="446.34" width="1.2" height="0.8" opacity="0.63"/><rect x="321.06" y="440" width="1.5" height="1.6" opacity="0.52"/><rect x="325.93" y="447.9" width="0.8" height="1.2" opacity="0.58"/><rect x="330.72" y="442.02" width="1" height="1.6" opacity="0.62"/><rect x="344.97" y="441.81" width="1.2" height="0.8" opacity="0.48"/><rect x="312.21" y="441.84" width="1" height="1" opacity="0.42"/><rect x="333.56" y="444.68" width="1.5" height="1.2" opacity="0.72"/><rect x="309.48" y="446.2" width="1.5" height="1.6" opacity="0.45"/></g><g fill="#0e5a1e"><rect x="316.4" y="45.4" width="5.2" height="13.3"/><rect x="316.4" y="68.2" width="5.2" height="17.8"/><rect x="316.4" y="95.7" width="5.2" height="17.8"/><rect x="316.4" y="123.2" width="5.2" height="17.8"/><rect x="316.4" y="150.7" width="5.2" height="17.8"/><rect x="316.4" y="178.2" width="5.2" height="17.8"/><rect x="316.4" y="205.7" width="5.2" height="17.8"/><rect x="316.4" y="233.2" width="5.2" height="17.8"/><rect x="316.4" y="260.7" width="5.2" height="17.8"/><rect x="316.4" y="288.2" width="5.2" height="17.8"/><rect x="316.4" y="315.7" width="5.2" height="17.8"/><rect x="316.4" y="343.2" width="5.2" height="17.8"/><rect x="316.4" y="370.7" width="5.2" height="17.8"/><rect x="316.4" y="398.2" width="5.2" height="17.8"/><path d="M316.4,402 H321 V421.8 H293 V417.6 H316.4 Z"/><rect x="253" y="418" width="10.8" height="3.6"/><rect x="267.6" y="418" width="10.7" height="3.6"/><rect x="281.4" y="418" width="9.2" height="3.6"/></g><g fill="#3c5090"><rect x="322.1" y="45.4" width="4.1" height="9.1"/><rect x="322.1" y="60.2" width="4.1" height="8.8"/><rect x="322.1" y="73.8" width="4.1" height="8.8"/><rect x="322.1" y="87.4" width="4.1" height="8.8"/><rect x="322.1" y="101" width="4.1" height="8.8"/><rect x="322.1" y="114.6" width="4.1" height="8.8"/><rect x="322.1" y="128.2" width="4.1" height="8.8"/><rect x="322.1" y="141.8" width="4.1" height="8.8"/><rect x="322.1" y="155.4" width="4.1" height="8.8"/><rect x="322.1" y="169" width="4.1" height="8.8"/><rect x="322.1" y="182.6" width="4.1" height="8.8"/><rect x="322.1" y="196.2" width="4.1" height="8.8"/><rect x="322.1" y="209.8" width="4.1" height="8.8"/><rect x="322.1" y="223.4" width="4.1" height="8.8"/><rect x="322.1" y="237" width="4.1" height="8.8"/><rect x="322.1" y="250.6" width="4.1" height="8.8"/><rect x="322.1" y="264.2" width="4.1" height="8.8"/><rect x="322.1" y="277.8" width="4.1" height="8.8"/><rect x="322.1" y="291.4" width="4.1" height="8.8"/><rect x="322.1" y="305" width="4.1" height="8.8"/><rect x="322.1" y="318.6" width="4.1" height="8.8"/><rect x="322.1" y="332.2" width="4.1" height="8.8"/><rect x="322.1" y="345.8" width="4.1" height="8.8"/><rect x="322.1" y="359.4" width="4.1" height="8.8"/><rect x="322.1" y="373" width="4.1" height="8.8"/><rect x="322.1" y="386.6" width="4.1" height="8.8"/><rect x="322.1" y="400.2" width="4.1" height="8.8"/><rect x="322.1" y="413.8" width="4.1" height="4.2"/><path d="M322.1,418 H326.2 V428.3 H313.6 V424.5 H322.1 Z"/><rect x="300.5" y="424.5" width="8.5" height="3.8"/><rect x="286.9" y="424.5" width="8.5" height="3.8"/><rect x="273.3" y="424.5" width="8.5" height="3.8"/><rect x="259.7" y="424.5" width="8.5" height="3.8"/><rect x="246.1" y="424.5" width="8.5" height="3.8"/><rect x="232.5" y="424.5" width="8.5" height="3.8"/><rect x="218.9" y="424.5" width="8.5" height="3.8"/><rect x="205.3" y="424.5" width="8.5" height="3.8"/><path d="M187,418 H191 V424.5 H197 V428.3 H187 Z"/><rect x="187" y="353" width="4" height="7.2"/><rect x="187" y="366.1" width="4" height="7.2"/><rect x="187" y="379.2" width="4" height="7.2"/><rect x="187" y="392.3" width="4" height="7.2"/><rect x="187" y="405.4" width="4" height="7.2"/></g><g stroke="#283a30" stroke-width="1.35" fill="none"><line x1="176.2" y1="45.4" x2="176.2" y2="627.5"/><line x1="202" y1="45.4" x2="202" y2="412.5"/><line x1="202" y1="253" x2="310.7" y2="253"/><line x1="202" y1="412.5" x2="310.7" y2="412.5"/><line x1="310.7" y1="45.4" x2="310.7" y2="412.5"/><line x1="336.1" y1="45.4" x2="336.1" y2="438.5"/><line x1="176.2" y1="438.5" x2="336.1" y2="438.5"/><line x1="349.6" y1="45.4" x2="349.6" y2="451"/><path d="M349.6,451 H318 C311,452 306,454 304.5,456"/><rect x="176.2" y="468.5" width="129.3" height="159"/></g><path d="M272,438.5 H299 L304.5,452 C301,456 300,462 305.5,468.5 H266 C282,462 287,450 272,438.5 Z" fill="#dd0a1e"/><ellipse cx="259.2" cy="454" rx="25.8" ry="14.5" fill="#fff" stroke="#283a30" stroke-width="1.2"/><g stroke="#a82a4a" stroke-width="1.2" fill="none"><path d="M27.4,45.6 H250.7 L259.6,34.6 L255.5,54.6 L267.2,45.6 H377.7"/><path d="M41.4,24.3 V319 L52.4,327.2 L30.7,323.1 L41.4,331.3 V627.5"/></g><rect x="41" y="626.1" width="425.8" height="3.8" fill="#cc0a28"/><defs><pattern id="earth" width="19.2" height="19.2" patternUnits="userSpaceOnUse" patternTransform="translate(41,630) rotate(45)"><g stroke="#9e2846" stroke-width="1.2"><line x1="0" y1="0" x2="9.6" y2="0"/><line x1="0" y1="3.6" x2="9.6" y2="3.6"/><line x1="0" y1="7.2" x2="9.6" y2="7.2"/><line x1="9.6" y1="9.6" x2="19.2" y2="9.6"/><line x1="9.6" y1="13.2" x2="19.2" y2="13.2"/><line x1="9.6" y1="16.8" x2="19.2" y2="16.8"/><line x1="1.2" y1="8.4" x2="1.2" y2="18"/><line x1="3.6" y1="8.4" x2="3.6" y2="18"/><line x1="6" y1="8.4" x2="6" y2="18"/><line x1="10.8" y1="-1.2" x2="10.8" y2="8.4"/><line x1="13.2" y1="-1.2" x2="13.2" y2="8.4"/><line x1="15.6" y1="-1.2" x2="15.6" y2="8.4"/><line x1="10.8" y1="18" x2="10.8" y2="27.6"/><line x1="13.2" y1="18" x2="13.2" y2="27.6"/><line x1="15.6" y1="18" x2="15.6" y2="27.6"/></g></pattern></defs><rect x="41" y="629.9" width="425.8" height="16.9" fill="url(#earth)"/><g stroke="#a82a4a" stroke-width="1" fill="none"><path d="M374.4,600 V626 L370.3,611.7 H482"/></g><path d="M104.6,325.8 L108.8,319.4 H238 C248,319 254,316 262,315.5 L305,314.5 V291.7 H310 V358.7 H305 V336.3 L262,335 C254,334.5 248,332.5 238,332 H108.8 Z" fill="#f2fafb" stroke="#36a6b6" stroke-width="1.1"/><g stroke="#36a6b6" stroke-width="0.8" fill="none"><line x1="117.7" y1="319.4" x2="117.7" y2="332"/><line x1="120.5" y1="319.4" x2="120.5" y2="332"/><line x1="126.7" y1="319.4" x2="126.7" y2="332"/><line x1="129.5" y1="319.4" x2="129.5" y2="332"/><line x1="135.7" y1="319.4" x2="135.7" y2="332"/><line x1="138.4" y1="319.4" x2="138.4" y2="332"/><line x1="146" y1="319.4" x2="146" y2="332"/><line x1="148.7" y1="319.4" x2="148.7" y2="332"/><line x1="155.6" y1="319.4" x2="155.6" y2="332"/><line x1="158.4" y1="319.4" x2="158.4" y2="332"/><line x1="165.3" y1="319.4" x2="165.3" y2="332"/><line x1="167.4" y1="319.4" x2="167.4" y2="332"/><polyline points="106,323.62 107,323.99 108,324.5 109,325.12 110,325.8 111,326.48 112,327.1 113,327.61 114,327.98 115,328.18 116,328.18 117,327.98 118,327.61 119,327.1 120,326.48 121,325.8 122,325.12 123,324.5 124,323.99 125,323.62 126,323.42 127,323.42 128,323.62 129,323.99 130,324.5 131,325.12 132,325.8 133,326.48 134,327.1 135,327.61 136,327.98 137,328.18 138,328.18 139,327.98 140,327.61 141,327.1 142,326.48 143,325.8 144,325.12 145,324.5 146,323.99 147,323.62 148,323.42 149,323.42 150,323.62 151,323.99 152,324.5 153,325.12 154,325.8 155,326.48 156,327.1 157,327.61 158,327.98 159,328.18 160,328.18 161,327.98 162,327.61 163,327.1 164,326.48 165,325.8 166,325.12 167,324.5 168,323.99 169,323.62 170,323.42 171,323.42 172,323.62 173,323.99" stroke-width="1.3"/></g><line x1="88" y1="325.8" x2="318" y2="325.8" stroke="#36a6b6" stroke-width="1.2" stroke-dasharray="14,4,2,4"/><g stroke="#4a5590" stroke-width="0.9" fill="none"><line x1="303" y1="61.8" x2="364.5" y2="61.8"/><line x1="122.6" y1="350.8" x2="122.6" y2="378"/><line x1="122.6" y1="400.2" x2="122.6" y2="425.6"/><line x1="122.6" y1="353.5" x2="187" y2="353.5"/><line x1="84" y1="425.6" x2="176.2" y2="425.6"/><line x1="122.6" y1="438.5" x2="176.2" y2="438.5"/><line x1="122.6" y1="468.4" x2="176.2" y2="468.4"/><line x1="86.6" y1="425.6" x2="86.6" y2="515.3"/><line x1="86.6" y1="537.5" x2="86.6" y2="627.5"/></g><line x1="307.2" y1="65.3" x2="314.2" y2="58.3" stroke="#4a5590" stroke-width="1.3"/><line x1="332.6" y1="65.3" x2="339.6" y2="58.3" stroke="#4a5590" stroke-width="1.3"/><line x1="346.1" y1="65.3" x2="353.1" y2="58.3" stroke="#4a5590" stroke-width="1.3"/><line x1="119.1" y1="350" x2="126.1" y2="357" stroke="#4a5590" stroke-width="1.3"/><line x1="119.1" y1="422.1" x2="126.1" y2="429.1" stroke="#4a5590" stroke-width="1.3"/><line x1="82.9" y1="422.1" x2="89.9" y2="429.1" stroke="#4a5590" stroke-width="1.3"/><line x1="119.1" y1="435" x2="126.1" y2="442" stroke="#4a5590" stroke-width="1.3"/><line x1="119.1" y1="464.9" x2="126.1" y2="471.9" stroke="#4a5590" stroke-width="1.3"/><line x1="83.1" y1="623.5" x2="90.1" y2="630.5" stroke="#4a5590" stroke-width="1.3"/><g stroke="#862842" stroke-width="1.15" fill="none"><line x1="342.3" y1="92.3" x2="393.5" y2="92.3"/><line x1="331" y1="138.8" x2="393.5" y2="138.8"/><line x1="323.6" y1="173.4" x2="393.5" y2="173.4"/><line x1="294.7" y1="205.4" x2="393.5" y2="205.4"/><line x1="315.8" y1="238.2" x2="393.5" y2="238.2"/><line x1="294.2" y1="288.4" x2="393.5" y2="288.4"/><line x1="303.2" y1="321.5" x2="393.5" y2="321.5"/><line x1="194.9" y1="364.3" x2="393.5" y2="364.3"/><line x1="255.2" y1="542.7" x2="393.5" y2="542.7"/><line x1="320.4" y1="413.5" x2="393.5" y2="413.5"/><path d="M304.8,453 L375,437.9 H393.5"/><path d="M259.6,453.4 L375,483.4 H393.5"/></g><g fill="#b01030"><circle cx="342.3" cy="92.3" r="3"/><circle cx="331" cy="138.8" r="3"/><circle cx="323.6" cy="173.4" r="3"/><circle cx="294.7" cy="205.4" r="3"/><circle cx="315.8" cy="238.2" r="3"/><circle cx="294.2" cy="288.4" r="3"/><circle cx="303.2" cy="321.5" r="3"/><circle cx="194.9" cy="364.3" r="3"/><circle cx="255.2" cy="542.7" r="3"/><circle cx="259.6" cy="453.4" r="3"/></g><rect x="57.5" y="129.5" width="103" height="33" fill="#fff"/><rect x="244" y="56" width="55" height="11" fill="#fff"/><rect x="90" y="383.5" width="64" height="13" fill="#fff"/><rect x="93" y="446" width="56" height="13" fill="#fff"/><rect x="52" y="521" width="69" height="12" fill="#fff"/><g font-family="Liberation Sans, sans-serif"><text x="400.5" y="89.6" fill="#80183a" font-size="12.8" font-style="italic" textLength="165.8" lengthAdjust="spacing">Декоративно–защитная</text><text x="400.5" y="102.8" fill="#80183a" font-size="12.8" font-style="italic" textLength="81" lengthAdjust="spacing">штукатурка</text><text x="400.5" y="143.5" fill="#80183a" font-size="12.8" font-style="italic" textLength="196" lengthAdjust="spacing">Полимерцементный  раствор</text><text x="400.5" y="169.7" fill="#80183a" font-size="12.8" font-style="italic" textLength="160.3" lengthAdjust="spacing">Стеклотканевая  сетка</text><text x="400.5" y="183.4" fill="#80183a" font-size="12.8" font-style="italic" textLength="121" lengthAdjust="spacing">марки  "Основная"</text><text x="400.5" y="201.8" fill="#80183a" font-size="12.8" font-style="italic" textLength="191.9" lengthAdjust="spacing">Пенополистирольная  плита</text><text x="400.5" y="215" fill="#80183a" font-size="12.8" font-style="italic" textLength="80.5" lengthAdjust="spacing">(ПСБС–25ф)</text><text x="400" y="233.8" fill="#80183a" font-size="12.8" font-style="italic" textLength="204.9" lengthAdjust="spacing">Стеклотканевая  сетка  марки</text><text x="400" y="248" fill="#80183a" font-size="12.8" font-style="italic" textLength="206" lengthAdjust="spacing">"Панцирная"  устанавливается</text><text x="399.5" y="261.8" fill="#80183a" font-size="12.8" font-style="italic" textLength="160.6" lengthAdjust="spacing">до  высоты  2500мм  от</text><text x="399" y="274.6" fill="#80183a" font-size="12.8" font-style="italic" textLength="89.4" lengthAdjust="spacing">уровня  земли</text><text x="400.5" y="292.1" fill="#80183a" font-size="12.8" font-style="italic" textLength="160.7" lengthAdjust="spacing">Минераловатная  плита</text><text x="400.7" y="326.1" fill="#80183a" font-size="12.8" font-style="italic" textLength="142.8" lengthAdjust="spacing">Пластиковый  дюбель</text><text x="400.7" y="369" fill="#80183a" font-size="12.8" font-style="italic" textLength="195.8" lengthAdjust="spacing">Полимерцементный  раствор</text><text x="400.5" y="442" fill="#80183a" font-size="12.8" font-style="italic" textLength="64.9" lengthAdjust="spacing">Герметик</text><text x="400.5" y="477.5" fill="#80183a" font-size="12.8" font-style="italic" textLength="153.8" lengthAdjust="spacing">Уплотнительный  шнур</text><text x="400.5" y="490.8" fill="#80183a" font-size="12.8" font-style="italic" textLength="75.3" lengthAdjust="spacing">"Вилатерм"</text><text x="400.5" y="547" fill="#80183a" font-size="12.8" font-style="italic" textLength="237.7" lengthAdjust="spacing">Цоколь:  плитка,  камень,  и  другое</text><text x="384" y="607" fill="#80183a" font-size="12.8" font-style="italic" textLength="98" lengthAdjust="spacing">Уровень  земли</text><text x="59.2" y="143.5" fill="#80183a" font-size="12.8" font-style="italic" textLength="100.3" lengthAdjust="spacing">Кирпич,  бетон</text><text x="59" y="156.8" fill="#80183a" font-size="12.8" font-style="italic" textLength="59.5" lengthAdjust="spacing">и  другое</text><text x="400.5" y="397.5" fill="#a82cb8" font-size="12.8" font-style="italic" textLength="160" lengthAdjust="spacing">Стеклотканевая  сетка</text><text x="400.5" y="411.3" fill="#a82cb8" font-size="12.8" font-style="italic" textLength="141.4" lengthAdjust="spacing">марки  "Угловая"  или</text><text x="400.5" y="424.7" fill="#a82cb8" font-size="12.8" font-style="italic" textLength="209.7" lengthAdjust="spacing">пластиковый  уголок  с  сеткой</text><text x="246.3" y="65.2" fill="#3a4274" font-size="10" font-style="italic" textLength="49.9" lengthAdjust="spacing">мин  5мм</text><text x="371.7" y="66" fill="#3a4274" font-size="10" font-style="italic" textLength="49.3" lengthAdjust="spacing">мин  2мм</text><text x="93.2" y="393.6" fill="#3a4274" font-size="10" font-style="italic" textLength="57.8" lengthAdjust="spacing">мин  50мм</text><text x="96.9" y="455.4" fill="#3a4274" font-size="10" font-style="italic" textLength="48.9" lengthAdjust="spacing">мин  5мм</text><text x="54.5" y="531" fill="#3a4274" font-size="10" font-style="italic" textLength="64.4" lengthAdjust="spacing">мин  200мм</text></g><g stroke="#3e3a3c" stroke-width="1.4" fill="none"><rect x="3.7" y="6.5" width="640.8" height="951.9"/><line x1="3.7" y1="848.4" x2="644.5" y2="848.4"/><line x1="3.7" y1="892.5" x2="644.5" y2="892.5"/><line x1="552.5" y1="848.4" x2="552.5" y2="892.5"/></g><g font-family="Liberation Sans, sans-serif" font-weight="bold" font-style="italic" fill="#9c0a1e"><text x="153.8" y="881" font-size="28" textLength="158.5" lengthAdjust="spacingAndGlyphs">Сэнарджи</text><text x="313.5" y="870.8" font-size="19" textLength="18.7" lengthAdjust="spacingAndGlyphs">®</text><text x="350.5" y="881" font-size="28" textLength="130.2" lengthAdjust="spacingAndGlyphs">- ПпС - 3</text><text x="566.3" y="874.5" font-size="19.5" textLength="54.4" lengthAdjust="spacingAndGlyphs">Рис 9</text><text x="171.7" y="920.3" font-size="19.5" textLength="325" lengthAdjust="spacingAndGlyphs">Примыкание системы к цоколю</text></g></svg></body></html>
